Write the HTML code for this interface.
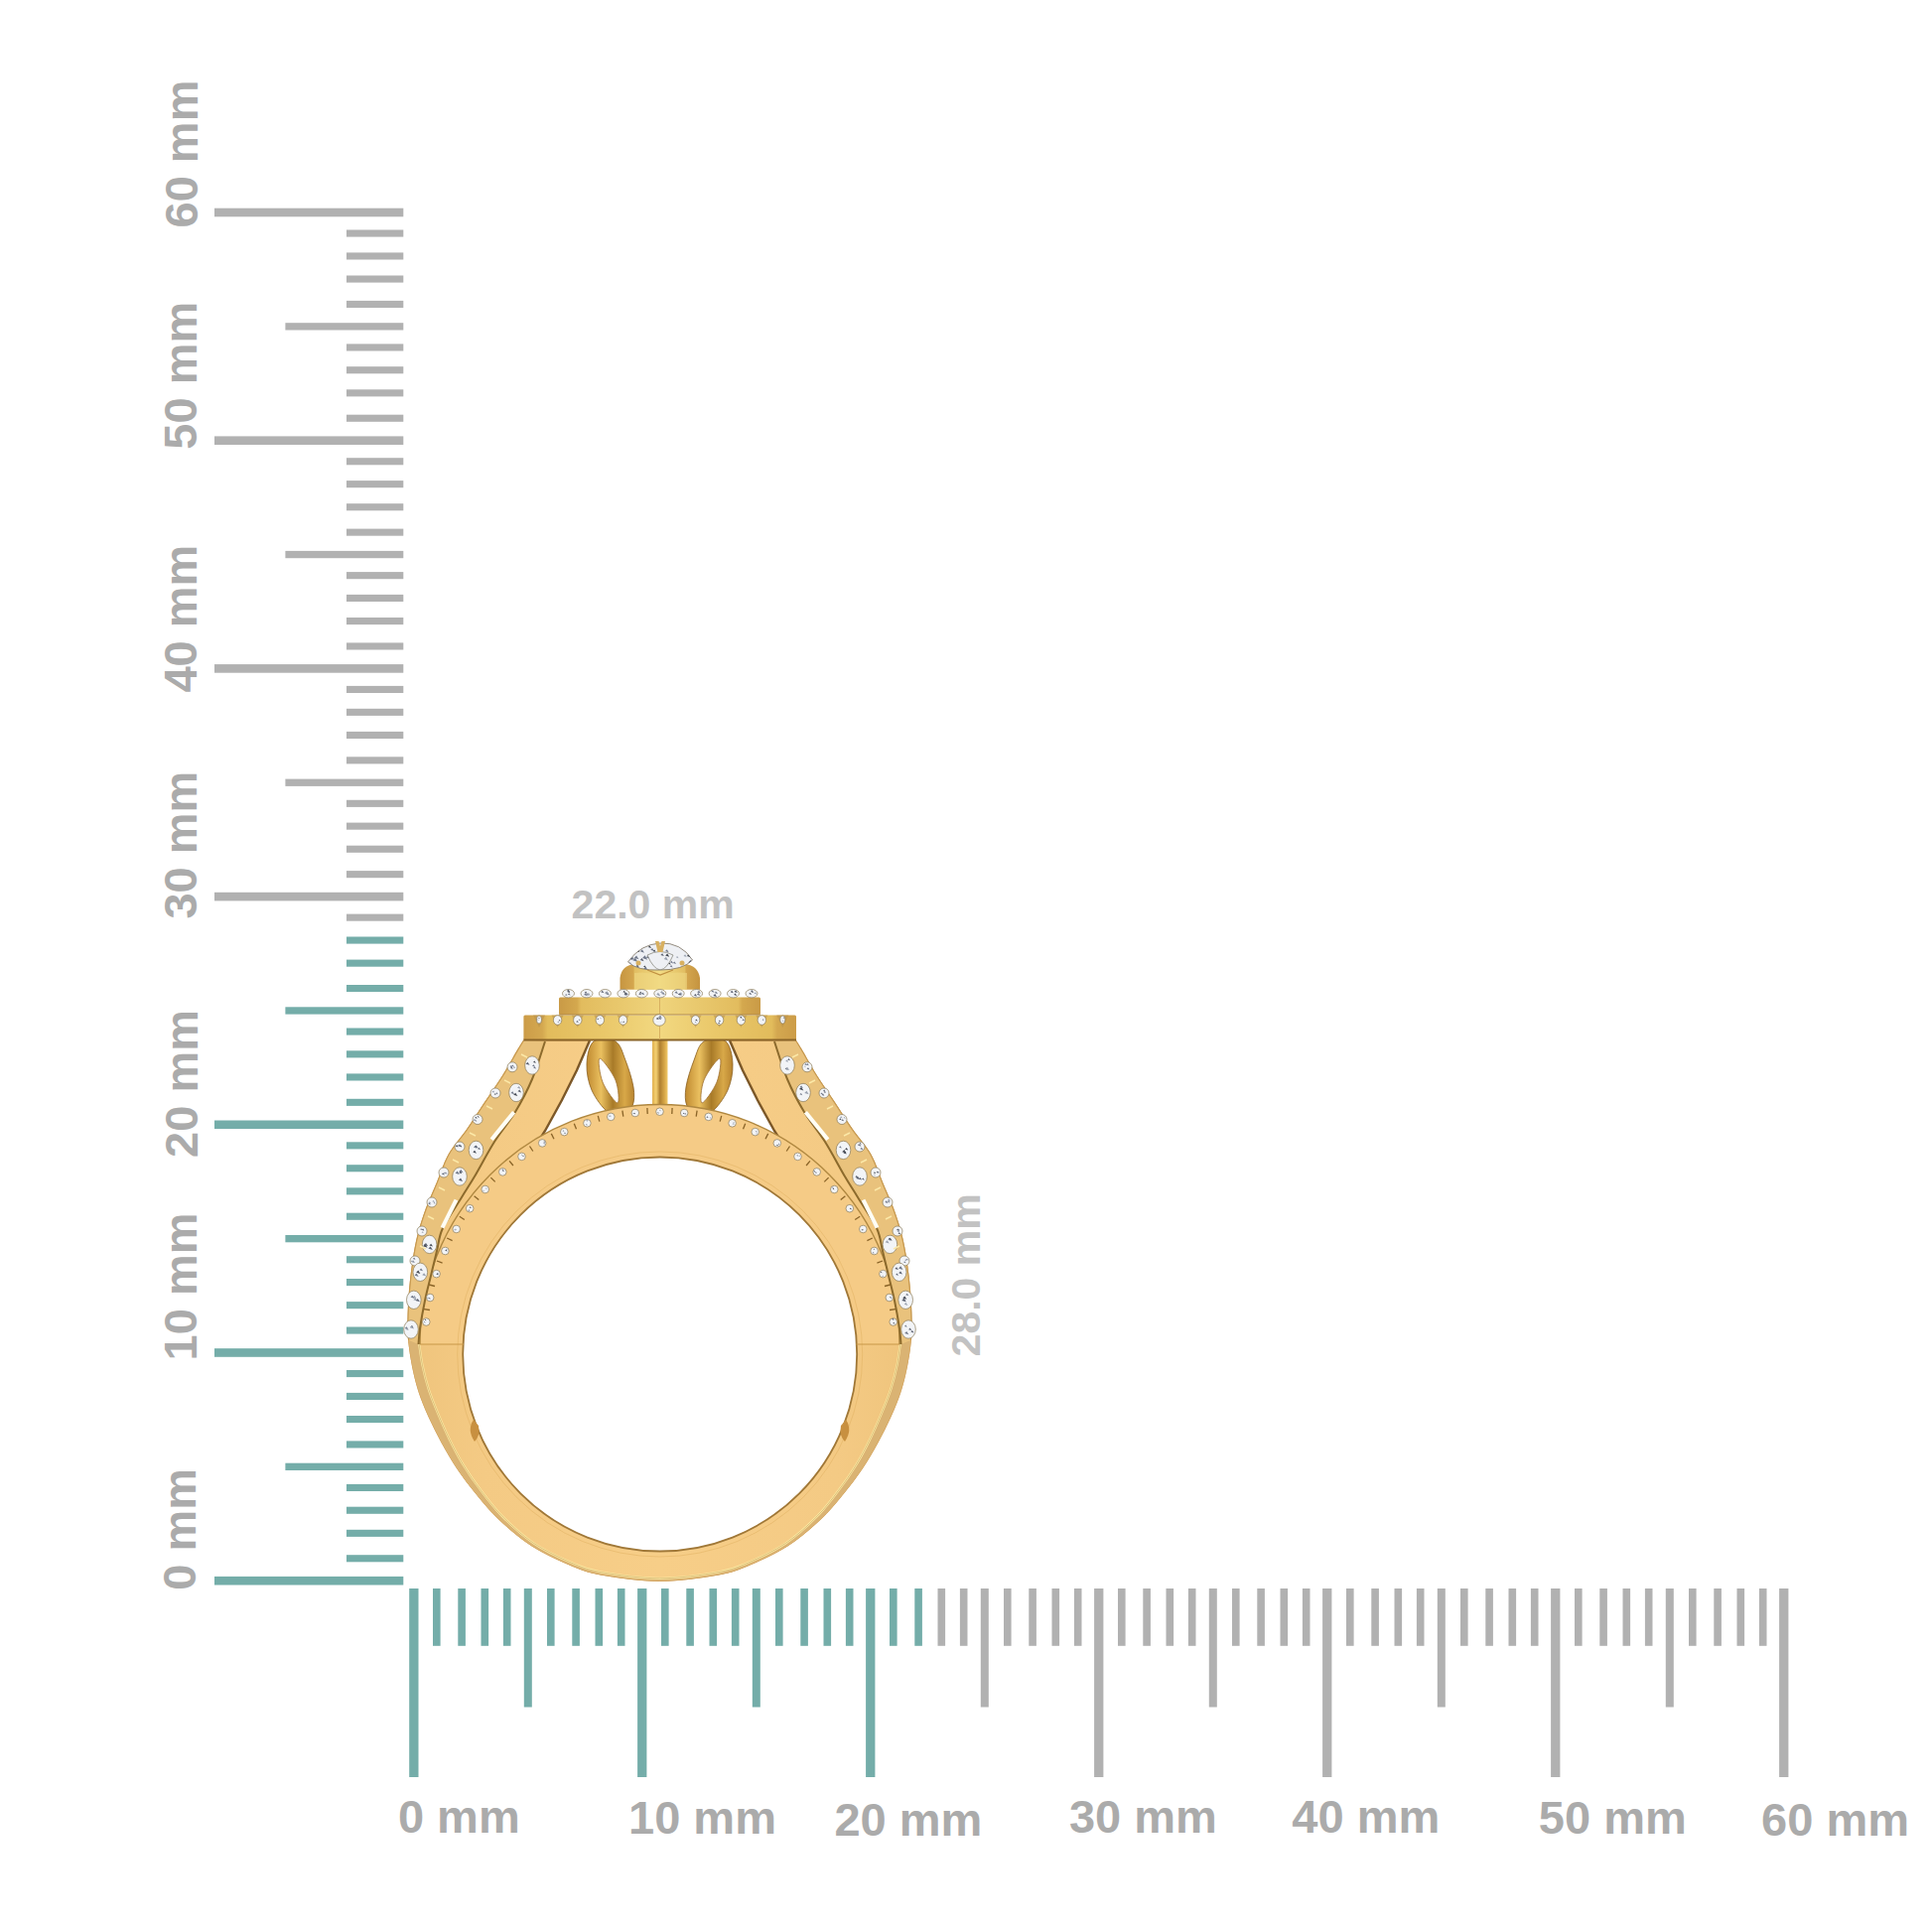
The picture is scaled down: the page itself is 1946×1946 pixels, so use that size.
<!DOCTYPE html>
<html><head><meta charset="utf-8"><style>
html,body{margin:0;padding:0;background:#fff;}
svg{display:block;}
.lb{font-family:"Liberation Sans",sans-serif;font-weight:bold;font-size:47px;fill:#ababab;}
.lb2{font-family:"Liberation Sans",sans-serif;font-weight:bold;font-size:41px;fill:#c2c2c2;}
</style></head><body>
<svg width="1946" height="1946" viewBox="0 0 1946 1946">
<rect width="1946" height="1946" fill="#fff"/>
<rect x="216" y="1587.9" width="190.3" height="8.6" fill="#74ada9"/>
<rect x="349" y="1566.2" width="57.3" height="7.1" fill="#74ada9"/>
<rect x="349" y="1540.8" width="57.3" height="7.1" fill="#74ada9"/>
<rect x="349" y="1517.7" width="57.3" height="7.1" fill="#74ada9"/>
<rect x="349" y="1494.9" width="57.3" height="7.1" fill="#74ada9"/>
<rect x="287.4" y="1473.7" width="118.9" height="7.3" fill="#74ada9"/>
<rect x="349" y="1451.4" width="57.3" height="7.1" fill="#74ada9"/>
<rect x="349" y="1426.0" width="57.3" height="7.1" fill="#74ada9"/>
<rect x="349" y="1402.9" width="57.3" height="7.1" fill="#74ada9"/>
<rect x="349" y="1380.0" width="57.3" height="7.1" fill="#74ada9"/>
<rect x="216" y="1358.2" width="190.3" height="8.6" fill="#74ada9"/>
<rect x="349" y="1336.5" width="57.3" height="7.1" fill="#74ada9"/>
<rect x="349" y="1311.1" width="57.3" height="7.1" fill="#74ada9"/>
<rect x="349" y="1288.0" width="57.3" height="7.1" fill="#74ada9"/>
<rect x="349" y="1265.2" width="57.3" height="7.1" fill="#74ada9"/>
<rect x="287.4" y="1244.0" width="118.9" height="7.3" fill="#74ada9"/>
<rect x="349" y="1221.7" width="57.3" height="7.1" fill="#74ada9"/>
<rect x="349" y="1196.3" width="57.3" height="7.1" fill="#74ada9"/>
<rect x="349" y="1173.2" width="57.3" height="7.1" fill="#74ada9"/>
<rect x="349" y="1150.3" width="57.3" height="7.1" fill="#74ada9"/>
<rect x="216" y="1128.5" width="190.3" height="8.6" fill="#74ada9"/>
<rect x="349" y="1106.8" width="57.3" height="7.1" fill="#74ada9"/>
<rect x="349" y="1081.4" width="57.3" height="7.1" fill="#74ada9"/>
<rect x="349" y="1058.3" width="57.3" height="7.1" fill="#74ada9"/>
<rect x="349" y="1035.5" width="57.3" height="7.1" fill="#74ada9"/>
<rect x="287.4" y="1014.3" width="118.9" height="7.3" fill="#74ada9"/>
<rect x="349" y="992.0" width="57.3" height="7.1" fill="#74ada9"/>
<rect x="349" y="966.6" width="57.3" height="7.1" fill="#74ada9"/>
<rect x="349" y="943.5" width="57.3" height="7.1" fill="#74ada9"/>
<rect x="349" y="920.6" width="57.3" height="7.1" fill="#b1b1b1"/>
<rect x="216" y="898.8" width="190.3" height="8.6" fill="#b1b1b1"/>
<rect x="349" y="877.1" width="57.3" height="7.1" fill="#b1b1b1"/>
<rect x="349" y="851.7" width="57.3" height="7.1" fill="#b1b1b1"/>
<rect x="349" y="828.6" width="57.3" height="7.1" fill="#b1b1b1"/>
<rect x="349" y="805.8" width="57.3" height="7.1" fill="#b1b1b1"/>
<rect x="287.4" y="784.6" width="118.9" height="7.3" fill="#b1b1b1"/>
<rect x="349" y="762.3" width="57.3" height="7.1" fill="#b1b1b1"/>
<rect x="349" y="736.9" width="57.3" height="7.1" fill="#b1b1b1"/>
<rect x="349" y="713.8" width="57.3" height="7.1" fill="#b1b1b1"/>
<rect x="349" y="690.9" width="57.3" height="7.1" fill="#b1b1b1"/>
<rect x="216" y="669.1" width="190.3" height="8.6" fill="#b1b1b1"/>
<rect x="349" y="647.4" width="57.3" height="7.1" fill="#b1b1b1"/>
<rect x="349" y="622.0" width="57.3" height="7.1" fill="#b1b1b1"/>
<rect x="349" y="598.9" width="57.3" height="7.1" fill="#b1b1b1"/>
<rect x="349" y="576.1" width="57.3" height="7.1" fill="#b1b1b1"/>
<rect x="287.4" y="554.9" width="118.9" height="7.3" fill="#b1b1b1"/>
<rect x="349" y="532.6" width="57.3" height="7.1" fill="#b1b1b1"/>
<rect x="349" y="507.2" width="57.3" height="7.1" fill="#b1b1b1"/>
<rect x="349" y="484.1" width="57.3" height="7.1" fill="#b1b1b1"/>
<rect x="349" y="461.2" width="57.3" height="7.1" fill="#b1b1b1"/>
<rect x="216" y="439.4" width="190.3" height="8.6" fill="#b1b1b1"/>
<rect x="349" y="417.7" width="57.3" height="7.1" fill="#b1b1b1"/>
<rect x="349" y="392.3" width="57.3" height="7.1" fill="#b1b1b1"/>
<rect x="349" y="369.2" width="57.3" height="7.1" fill="#b1b1b1"/>
<rect x="349" y="346.4" width="57.3" height="7.1" fill="#b1b1b1"/>
<rect x="287.4" y="325.2" width="118.9" height="7.3" fill="#b1b1b1"/>
<rect x="349" y="302.9" width="57.3" height="7.1" fill="#b1b1b1"/>
<rect x="349" y="277.5" width="57.3" height="7.1" fill="#b1b1b1"/>
<rect x="349" y="254.4" width="57.3" height="7.1" fill="#b1b1b1"/>
<rect x="349" y="231.5" width="57.3" height="7.1" fill="#b1b1b1"/>
<rect x="216" y="209.7" width="190.3" height="8.6" fill="#b1b1b1"/>
<rect x="412.2" y="1600" width="9.3" height="190.0" fill="#74ada9"/>
<rect x="436.0" y="1600" width="7.6" height="57.8" fill="#74ada9"/>
<rect x="461.3" y="1600" width="7.6" height="57.8" fill="#74ada9"/>
<rect x="484.5" y="1600" width="7.6" height="57.8" fill="#74ada9"/>
<rect x="506.9" y="1600" width="7.6" height="57.8" fill="#74ada9"/>
<rect x="527.8" y="1600" width="8" height="119.5" fill="#74ada9"/>
<rect x="551.0" y="1600" width="7.6" height="57.8" fill="#74ada9"/>
<rect x="576.3" y="1600" width="7.6" height="57.8" fill="#74ada9"/>
<rect x="599.5" y="1600" width="7.6" height="57.8" fill="#74ada9"/>
<rect x="621.9" y="1600" width="7.6" height="57.8" fill="#74ada9"/>
<rect x="642.1" y="1600" width="9.3" height="190.0" fill="#74ada9"/>
<rect x="666.0" y="1600" width="7.6" height="57.8" fill="#74ada9"/>
<rect x="691.3" y="1600" width="7.6" height="57.8" fill="#74ada9"/>
<rect x="714.5" y="1600" width="7.6" height="57.8" fill="#74ada9"/>
<rect x="736.9" y="1600" width="7.6" height="57.8" fill="#74ada9"/>
<rect x="757.8" y="1600" width="8" height="119.5" fill="#74ada9"/>
<rect x="781.0" y="1600" width="7.6" height="57.8" fill="#74ada9"/>
<rect x="806.3" y="1600" width="7.6" height="57.8" fill="#74ada9"/>
<rect x="829.5" y="1600" width="7.6" height="57.8" fill="#74ada9"/>
<rect x="851.9" y="1600" width="7.6" height="57.8" fill="#74ada9"/>
<rect x="872.1" y="1600" width="9.3" height="190.0" fill="#74ada9"/>
<rect x="896.0" y="1600" width="7.6" height="57.8" fill="#74ada9"/>
<rect x="921.3" y="1600" width="7.6" height="57.8" fill="#74ada9"/>
<rect x="944.5" y="1600" width="7.6" height="57.8" fill="#b1b1b1"/>
<rect x="966.9" y="1600" width="7.6" height="57.8" fill="#b1b1b1"/>
<rect x="987.8" y="1600" width="8" height="119.5" fill="#b1b1b1"/>
<rect x="1011.0" y="1600" width="7.6" height="57.8" fill="#b1b1b1"/>
<rect x="1036.3" y="1600" width="7.6" height="57.8" fill="#b1b1b1"/>
<rect x="1059.5" y="1600" width="7.6" height="57.8" fill="#b1b1b1"/>
<rect x="1081.9" y="1600" width="7.6" height="57.8" fill="#b1b1b1"/>
<rect x="1102.1" y="1600" width="9.3" height="190.0" fill="#b1b1b1"/>
<rect x="1126.0" y="1600" width="7.6" height="57.8" fill="#b1b1b1"/>
<rect x="1151.3" y="1600" width="7.6" height="57.8" fill="#b1b1b1"/>
<rect x="1174.5" y="1600" width="7.6" height="57.8" fill="#b1b1b1"/>
<rect x="1196.9" y="1600" width="7.6" height="57.8" fill="#b1b1b1"/>
<rect x="1217.8" y="1600" width="8" height="119.5" fill="#b1b1b1"/>
<rect x="1241.0" y="1600" width="7.6" height="57.8" fill="#b1b1b1"/>
<rect x="1266.3" y="1600" width="7.6" height="57.8" fill="#b1b1b1"/>
<rect x="1289.5" y="1600" width="7.6" height="57.8" fill="#b1b1b1"/>
<rect x="1311.9" y="1600" width="7.6" height="57.8" fill="#b1b1b1"/>
<rect x="1332.1" y="1600" width="9.3" height="190.0" fill="#b1b1b1"/>
<rect x="1356.0" y="1600" width="7.6" height="57.8" fill="#b1b1b1"/>
<rect x="1381.3" y="1600" width="7.6" height="57.8" fill="#b1b1b1"/>
<rect x="1404.5" y="1600" width="7.6" height="57.8" fill="#b1b1b1"/>
<rect x="1426.9" y="1600" width="7.6" height="57.8" fill="#b1b1b1"/>
<rect x="1447.8" y="1600" width="8" height="119.5" fill="#b1b1b1"/>
<rect x="1471.0" y="1600" width="7.6" height="57.8" fill="#b1b1b1"/>
<rect x="1496.3" y="1600" width="7.6" height="57.8" fill="#b1b1b1"/>
<rect x="1519.5" y="1600" width="7.6" height="57.8" fill="#b1b1b1"/>
<rect x="1541.9" y="1600" width="7.6" height="57.8" fill="#b1b1b1"/>
<rect x="1562.1" y="1600" width="9.3" height="190.0" fill="#b1b1b1"/>
<rect x="1586.0" y="1600" width="7.6" height="57.8" fill="#b1b1b1"/>
<rect x="1611.3" y="1600" width="7.6" height="57.8" fill="#b1b1b1"/>
<rect x="1634.5" y="1600" width="7.6" height="57.8" fill="#b1b1b1"/>
<rect x="1656.9" y="1600" width="7.6" height="57.8" fill="#b1b1b1"/>
<rect x="1677.8" y="1600" width="8" height="119.5" fill="#b1b1b1"/>
<rect x="1701.0" y="1600" width="7.6" height="57.8" fill="#b1b1b1"/>
<rect x="1726.3" y="1600" width="7.6" height="57.8" fill="#b1b1b1"/>
<rect x="1749.5" y="1600" width="7.6" height="57.8" fill="#b1b1b1"/>
<rect x="1771.9" y="1600" width="7.6" height="57.8" fill="#b1b1b1"/>
<rect x="1792.1" y="1600" width="9.3" height="190.0" fill="#b1b1b1"/>
<text x="400.9" y="1845.9" class="lb">0 mm</text>
<text x="633.0" y="1847.0" class="lb">10 mm</text>
<text x="840.4" y="1849.0" class="lb">20 mm</text>
<text x="1076.9" y="1845.9" class="lb">30 mm</text>
<text x="1301.3" y="1845.9" class="lb">40 mm</text>
<text x="1549.8" y="1847.0" class="lb">50 mm</text>
<text x="1774.1" y="1849.0" class="lb">60 mm</text>
<text transform="translate(196.8,1601.7) rotate(-90)" class="lb">0 mm</text>
<text transform="translate(197.6,1370.4) rotate(-90)" class="lb">10 mm</text>
<text transform="translate(199.0,1165.9) rotate(-90)" class="lb">20 mm</text>
<text transform="translate(197.5,925.6) rotate(-90)" class="lb">30 mm</text>
<text transform="translate(197.5,697.6) rotate(-90)" class="lb">40 mm</text>
<text transform="translate(198.0,452.7) rotate(-90)" class="lb">50 mm</text>
<text transform="translate(199.0,229.5) rotate(-90)" class="lb">60 mm</text>
<text x="575.6" y="925" class="lb2">22.0 mm</text>
<text transform="translate(987.2,1366.4) rotate(-90)" class="lb2">28.0 mm</text>
<defs>
<linearGradient id="gBand" x1="410" y1="0" x2="919" y2="0" gradientUnits="userSpaceOnUse">
 <stop offset="0" stop-color="#efc47c"/><stop offset="0.15" stop-color="#f4ca84"/>
 <stop offset="0.5" stop-color="#f7ce88"/><stop offset="0.85" stop-color="#f4ca84"/><stop offset="1" stop-color="#efc47c"/>
</linearGradient>
<linearGradient id="gHead" x1="527" y1="0" x2="802" y2="0" gradientUnits="userSpaceOnUse">
 <stop offset="0" stop-color="#cc9c48"/><stop offset="0.07" stop-color="#d4a850"/><stop offset="0.09" stop-color="#e2bc5c"/>
 <stop offset="0.3" stop-color="#eac86a"/><stop offset="0.5" stop-color="#f2d880"/><stop offset="0.7" stop-color="#eac86a"/><stop offset="0.91" stop-color="#e2bc5c"/><stop offset="0.93" stop-color="#d4a850"/><stop offset="1" stop-color="#cc9c48"/>
</linearGradient>
<linearGradient id="gHead2" x1="563" y1="0" x2="766" y2="0" gradientUnits="userSpaceOnUse">
 <stop offset="0" stop-color="#c99a46"/><stop offset="0.09" stop-color="#d4a84e"/><stop offset="0.11" stop-color="#e2bc5e"/>
 <stop offset="0.5" stop-color="#efd47c"/><stop offset="0.89" stop-color="#e2bc5e"/><stop offset="0.91" stop-color="#d4a84e"/><stop offset="1" stop-color="#c99a46"/>
</linearGradient>
<linearGradient id="gTop" x1="624" y1="0" x2="705" y2="0" gradientUnits="userSpaceOnUse">
 <stop offset="0" stop-color="#c59440"/><stop offset="0.17" stop-color="#d4a64e"/><stop offset="0.19" stop-color="#e2be62"/>
 <stop offset="0.5" stop-color="#f2dc84"/><stop offset="0.81" stop-color="#e2be62"/><stop offset="0.83" stop-color="#d4a64e"/><stop offset="1" stop-color="#c59440"/>
</linearGradient>
<linearGradient id="gGal" x1="0" y1="0" x2="1" y2="0">
 <stop offset="0" stop-color="#c08a30"/><stop offset="0.3" stop-color="#eac060"/><stop offset="0.55" stop-color="#a87a28"/><stop offset="0.8" stop-color="#d8a848"/><stop offset="1" stop-color="#b88430"/>
</linearGradient>
<linearGradient id="gPost" x1="0" y1="0" x2="1" y2="0">
 <stop offset="0" stop-color="#e0b050"/><stop offset="0.25" stop-color="#f4d070"/><stop offset="0.5" stop-color="#b08030"/><stop offset="0.8" stop-color="#d8a848"/><stop offset="1" stop-color="#f0c868"/>
</linearGradient>
<radialGradient id="gDia" cx="0.45" cy="0.45" r="0.6">
 <stop offset="0" stop-color="#f4f6fa"/><stop offset="0.5" stop-color="#e2e6ec"/><stop offset="0.8" stop-color="#a0a6b0"/><stop offset="1" stop-color="#60646c"/>
</radialGradient>
<radialGradient id="gDiaS" cx="0.5" cy="0.45" r="0.6">
 <stop offset="0" stop-color="#fbfcfd"/><stop offset="0.6" stop-color="#e6e9ee"/><stop offset="1" stop-color="#80848c"/>
</radialGradient>
</defs>
<path d="M527.5,1048.0 C526.5,1049.6 525.2,1051.6 521.7,1057.4 C518.2,1063.2 512.3,1074.2 506.8,1083.0 C501.3,1091.8 494.6,1101.3 488.5,1110.4 C482.4,1119.5 476.6,1128.9 470.5,1137.7 C464.4,1146.5 457.1,1154.0 452.0,1163.0 C446.9,1172.0 443.8,1183.0 440.0,1192.0 C436.2,1201.0 432.7,1208.3 429.5,1217.0 C426.3,1225.7 423.2,1235.2 421.0,1244.0 C418.8,1252.8 417.4,1260.7 416.0,1270.0 C414.6,1279.3 413.3,1290.0 412.5,1300.0 C411.7,1310.0 411.1,1321.7 411.0,1330.0 C410.9,1338.3 410.9,1342.3 411.6,1350.0 C412.4,1357.7 413.8,1367.4 415.5,1376.0 C417.2,1384.6 419.2,1393.1 422.0,1401.7 C424.8,1410.3 428.4,1419.0 432.3,1427.6 C436.2,1436.2 440.6,1444.9 445.3,1453.5 C450.1,1462.1 455.0,1470.8 460.8,1479.4 C466.6,1488.0 473.1,1496.6 480.2,1505.2 C487.3,1513.8 494.2,1522.5 503.5,1531.1 C512.8,1539.7 523.9,1549.5 535.8,1557.0 C547.6,1564.5 563.1,1571.6 574.6,1576.4 C586.1,1581.2 590.0,1583.3 605.0,1586.0 C620.0,1588.7 644.7,1592.3 664.5,1592.3 C684.3,1592.3 709.0,1588.7 724.0,1586.0 C739.0,1583.3 742.9,1581.2 754.4,1576.4 C765.9,1571.6 781.4,1564.5 793.2,1557.0 C805.1,1549.5 816.2,1539.7 825.5,1531.1 C834.8,1522.5 841.7,1513.8 848.8,1505.2 C855.9,1496.6 862.4,1488.0 868.2,1479.4 C874.0,1470.8 879.0,1462.1 883.7,1453.5 C888.5,1444.9 892.8,1436.2 896.7,1427.6 C900.6,1419.0 904.2,1410.3 907.0,1401.7 C909.8,1393.1 911.8,1384.6 913.5,1376.0 C915.2,1367.4 916.6,1357.7 917.4,1350.0 C918.1,1342.3 918.1,1338.3 918.0,1330.0 C917.9,1321.7 917.3,1310.0 916.5,1300.0 C915.7,1290.0 914.4,1279.3 913.0,1270.0 C911.6,1260.7 910.2,1252.8 908.0,1244.0 C905.8,1235.2 902.7,1225.7 899.5,1217.0 C896.3,1208.3 892.8,1201.0 889.0,1192.0 C885.2,1183.0 882.1,1172.0 877.0,1163.0 C871.9,1154.0 864.6,1146.5 858.5,1137.7 C852.4,1128.9 846.5,1119.5 840.5,1110.4 C834.5,1101.3 827.7,1091.8 822.2,1083.0 C816.7,1074.2 810.8,1063.2 807.3,1057.4 C803.8,1051.6 802.5,1049.6 801.5,1048.0 Z" fill="url(#gBand)" stroke="#c89a58" stroke-width="1"/>
<path d="M411.0,1330.0 C411.1,1333.3 410.9,1342.3 411.6,1350.0 C412.4,1357.7 413.8,1367.4 415.5,1376.0 C417.2,1384.6 419.2,1393.1 422.0,1401.7 C424.8,1410.3 428.4,1419.0 432.3,1427.6 C436.2,1436.2 440.6,1444.9 445.3,1453.5 C450.1,1462.1 455.0,1470.8 460.8,1479.4 C466.6,1488.0 473.1,1496.6 480.2,1505.2 C487.3,1513.8 494.2,1522.5 503.5,1531.1 C512.8,1539.7 523.9,1549.5 535.8,1557.0 C547.6,1564.5 563.1,1571.6 574.6,1576.4 C586.1,1581.2 590.0,1583.3 605.0,1586.0 C620.0,1588.7 644.7,1592.3 664.5,1592.3 C684.3,1592.3 709.0,1588.7 724.0,1586.0 C739.0,1583.3 742.9,1581.2 754.4,1576.4 C765.9,1571.6 781.4,1564.5 793.2,1557.0 C805.1,1549.5 816.2,1539.7 825.5,1531.1 C834.8,1522.5 841.7,1513.8 848.8,1505.2 C855.9,1496.6 862.4,1488.0 868.2,1479.4 C874.0,1470.8 879.0,1462.1 883.7,1453.5 C888.5,1444.9 892.8,1436.2 896.7,1427.6 C900.6,1419.0 904.2,1410.3 907.0,1401.7 C909.8,1393.1 911.8,1384.6 913.5,1376.0 C915.2,1367.4 916.6,1357.7 917.4,1350.0 C918.1,1342.3 917.9,1333.3 918.0,1330.0" fill="none" stroke="#d8a860" stroke-width="1.2" opacity="0.8"/>
<path d="M411.6,1350.0 C412.2,1354.3 413.8,1367.4 415.5,1376.0 C417.2,1384.6 419.2,1393.1 422.0,1401.7 C424.8,1410.3 428.4,1419.0 432.3,1427.6 C436.2,1436.2 440.6,1444.9 445.3,1453.5 C450.1,1462.1 455.0,1470.8 460.8,1479.4 C466.6,1488.0 473.1,1496.6 480.2,1505.2 C487.3,1513.8 494.2,1522.5 503.5,1531.1 C512.8,1539.7 523.9,1549.5 535.8,1557.0 C547.6,1564.5 563.1,1571.6 574.6,1576.4 C586.1,1581.2 590.0,1583.3 605.0,1586.0 C620.0,1588.7 644.7,1592.3 664.5,1592.3 C684.3,1592.3 709.0,1588.7 724.0,1586.0 C739.0,1583.3 742.9,1581.2 754.4,1576.4 C765.9,1571.6 781.4,1564.5 793.2,1557.0 C805.1,1549.5 816.2,1539.7 825.5,1531.1 C834.8,1522.5 841.7,1513.8 848.8,1505.2 C855.9,1496.6 862.4,1488.0 868.2,1479.4 C874.0,1470.8 879.0,1462.1 883.7,1453.5 C888.5,1444.9 892.8,1436.2 896.7,1427.6 C900.6,1419.0 904.2,1410.3 907.0,1401.7 C909.8,1393.1 911.8,1384.6 913.5,1376.0 C915.2,1367.4 916.8,1354.3 917.4,1350.0 L907.4,1349.2 C906.8,1353.4 905.3,1365.9 903.7,1374.2 C902.0,1382.5 900.0,1390.6 897.4,1398.9 C894.8,1407.1 891.3,1415.4 887.8,1423.9 C884.3,1432.3 880.7,1440.9 876.4,1449.4 C872.2,1458.0 867.8,1466.6 862.5,1475.2 C857.2,1483.9 851.3,1492.5 844.6,1501.2 C838.0,1510.0 831.6,1518.8 822.7,1527.6 C813.9,1536.5 803.2,1546.5 791.6,1554.3 C780.1,1562.0 764.9,1569.2 753.5,1574.1 C742.2,1578.9 738.3,1580.9 723.4,1583.6 C708.6,1586.2 684.1,1589.8 664.5,1589.8 C644.9,1589.8 620.4,1586.2 605.6,1583.6 C590.7,1580.9 586.8,1578.9 575.5,1574.1 C564.1,1569.2 548.9,1562.0 537.4,1554.3 C525.8,1546.5 515.1,1536.5 506.3,1527.6 C497.4,1518.8 491.0,1510.0 484.4,1501.2 C477.7,1492.5 471.8,1483.9 466.5,1475.2 C461.2,1466.6 456.8,1458.0 452.6,1449.4 C448.3,1440.9 444.7,1432.3 441.2,1423.9 C437.7,1415.4 434.2,1407.1 431.6,1398.9 C429.0,1390.6 427.0,1382.5 425.3,1374.2 C423.7,1365.9 422.2,1353.4 421.6,1349.2 Z" fill="#dab373"/>
<path d="M421.6,1349.2 C422.2,1353.4 423.7,1365.9 425.3,1374.2 C427.0,1382.5 429.0,1390.6 431.6,1398.9 C434.2,1407.1 437.7,1415.4 441.2,1423.9 C444.7,1432.3 448.3,1440.9 452.6,1449.4 C456.8,1458.0 461.2,1466.6 466.5,1475.2 C471.8,1483.9 477.7,1492.5 484.4,1501.2 C491.0,1510.0 497.4,1518.8 506.3,1527.6 C515.1,1536.5 525.8,1546.5 537.4,1554.3 C548.9,1562.0 564.1,1569.2 575.5,1574.1 C586.8,1578.9 590.7,1580.9 605.6,1583.6 C620.4,1586.2 644.9,1589.8 664.5,1589.8 C684.1,1589.8 708.6,1586.2 723.4,1583.6 C738.3,1580.9 742.2,1578.9 753.5,1574.1 C764.9,1569.2 780.1,1562.0 791.6,1554.3 C803.2,1546.5 813.9,1536.5 822.7,1527.6 C831.6,1518.8 838.0,1510.0 844.6,1501.2 C851.3,1492.5 857.2,1483.9 862.5,1475.2 C867.8,1466.6 872.2,1458.0 876.4,1449.4 C880.7,1440.9 884.3,1432.3 887.8,1423.9 C891.3,1415.4 894.8,1407.1 897.4,1398.9 C900.0,1390.6 902.0,1382.5 903.7,1374.2 C905.3,1365.9 906.8,1353.4 907.4,1349.2" fill="none" stroke="#fce9a2" stroke-width="2.2"/>
<path d="M421.6,1349.2 C422.2,1353.4 423.7,1365.9 425.3,1374.2 C427.0,1382.5 429.0,1390.6 431.6,1398.9 C434.2,1407.1 437.7,1415.4 441.2,1423.9 C444.7,1432.3 448.3,1440.9 452.6,1449.4 C456.8,1458.0 461.2,1466.6 466.5,1475.2 C471.8,1483.9 477.7,1492.5 484.4,1501.2 C491.0,1510.0 497.4,1518.8 506.3,1527.6 C515.1,1536.5 525.8,1546.5 537.4,1554.3 C548.9,1562.0 564.1,1569.2 575.5,1574.1 C586.8,1578.9 590.7,1580.9 605.6,1583.6 C620.4,1586.2 644.9,1589.8 664.5,1589.8 C684.1,1589.8 708.6,1586.2 723.4,1583.6 C738.3,1580.9 742.2,1578.9 753.5,1574.1 C764.9,1569.2 780.1,1562.0 791.6,1554.3 C803.2,1546.5 813.9,1536.5 822.7,1527.6 C831.6,1518.8 838.0,1510.0 844.6,1501.2 C851.3,1492.5 857.2,1483.9 862.5,1475.2 C867.8,1466.6 872.2,1458.0 876.4,1449.4 C880.7,1440.9 884.3,1432.3 887.8,1423.9 C891.3,1415.4 894.8,1407.1 897.4,1398.9 C900.0,1390.6 902.0,1382.5 903.7,1374.2 C905.3,1365.9 906.8,1353.4 907.4,1349.2" fill="none" stroke="#b89050" stroke-width="0.8" opacity="0.6" transform="translate(0,0)"/>
<path d="M594.0,1048.0 L581.0,1078.0 L566.0,1108.0 L549.0,1139.0 L544.0,1147.0 L550.0,1143.6 L556.0,1140.4 L562.0,1137.5 L568.0,1134.8 L574.0,1132.3 L580.0,1130.0 L586.0,1127.8 L592.0,1125.8 L598.0,1124.0 L604.0,1122.4 L610.0,1120.9 L616.0,1119.6 L622.0,1118.5 L628.0,1117.5 L634.0,1116.6 L640.0,1115.9 L646.0,1115.4 L652.0,1115.0 L658.0,1114.8 L664.0,1114.7 L670.0,1114.8 L676.0,1115.0 L682.0,1115.3 L688.0,1115.8 L694.0,1116.5 L700.0,1117.3 L706.0,1118.3 L712.0,1119.4 L718.0,1120.7 L724.0,1122.1 L730.0,1123.8 L736.0,1125.5 L742.0,1127.5 L748.0,1129.6 L754.0,1131.9 L760.0,1134.4 L766.0,1137.1 L772.0,1139.9 L778.0,1143.0 L785.0,1147.0 L780.0,1139.0 L763.0,1108.0 L748.0,1078.0 L735.0,1048.0 Z" fill="#ffffff"/>
<path d="M594.0,1048.0 L581.0,1078.0 L566.0,1108.0 L549.0,1139.0 L544.0,1147.0" fill="none" stroke="#7c5828" stroke-width="2.4"/>
<path d="M735.0,1048.0 L748.0,1078.0 L763.0,1108.0 L780.0,1139.0 L785.0,1147.0" fill="none" stroke="#7c5828" stroke-width="2.4"/>
<path d="M598.0,1049.0 C593.2,1052.8 591.3,1063.8 591.0,1072.0 C590.7,1080.2 592.5,1090.0 596.0,1098.0 C599.5,1106.0 607.0,1116.0 612.0,1120.0 C617.0,1124.0 621.8,1123.0 626.0,1122.0 C630.2,1121.0 635.0,1118.5 637.0,1114.0 C639.0,1109.5 639.2,1102.7 638.0,1095.0 C636.8,1087.3 633.0,1075.7 630.0,1068.0 C627.0,1060.3 625.3,1052.2 620.0,1049.0 C614.7,1045.8 602.8,1045.2 598.0,1049.0 Z" fill="url(#gGal)" stroke="#8a6020" stroke-width="0.8"/>
<path d="M604.0,1066.0 C601.8,1066.3 604.0,1082.5 607.0,1090.0 C610.0,1097.5 619.8,1111.3 622.0,1111.0 C624.2,1110.7 623.0,1095.5 620.0,1088.0 C617.0,1080.5 606.2,1065.7 604.0,1066.0 Z" fill="#ffffff" stroke="#a07030" stroke-width="0.8"/>
<path d="M731.0,1049.0 C735.8,1052.8 737.7,1063.8 738.0,1072.0 C738.3,1080.2 736.5,1090.0 733.0,1098.0 C729.5,1106.0 722.0,1116.0 717.0,1120.0 C712.0,1124.0 707.2,1123.0 703.0,1122.0 C698.8,1121.0 694.0,1118.5 692.0,1114.0 C690.0,1109.5 689.8,1102.7 691.0,1095.0 C692.2,1087.3 696.0,1075.7 699.0,1068.0 C702.0,1060.3 703.7,1052.2 709.0,1049.0 C714.3,1045.8 726.2,1045.2 731.0,1049.0 Z" fill="url(#gGal)" stroke="#8a6020" stroke-width="0.8"/>
<path d="M725.0,1066.0 C727.2,1066.3 725.0,1082.5 722.0,1090.0 C719.0,1097.5 709.2,1111.3 707.0,1111.0 C704.8,1110.7 706.0,1095.5 709.0,1088.0 C712.0,1080.5 722.8,1065.7 725.0,1066.0 Z" fill="#ffffff" stroke="#a07030" stroke-width="0.8"/>
<rect x="657" y="1048" width="15.5" height="70" fill="url(#gPost)"/>
<path d="M423.0,1354 A241.5,241.5 0 0 1 906.0,1354 L862.4,1354 A198,198 0 0 0 467.0,1354 Z" fill="#f5cb86"/>
<circle cx="664.7" cy="1364" r="198" fill="#ffffff"/>
<circle cx="664.7" cy="1364" r="198.5" fill="none" stroke="#a07838" stroke-width="1.8"/>
<circle cx="664.7" cy="1364" r="204" fill="none" stroke="#e0b060" stroke-width="1" opacity="0.5"/>
<line x1="423.0" y1="1354" x2="467.0" y2="1354" stroke="#c89848" stroke-width="1"/>
<line x1="862.4" y1="1354" x2="906.0" y2="1354" stroke="#c89848" stroke-width="1"/>
<path d="M423.0,1354 A241.5,241.5 0 0 1 906.0,1354" fill="none" stroke="#b08840" stroke-width="1.4"/>
<path d="M477,1430 Q470,1440 478,1452 Q484,1446 482,1436 Z" fill="#c89040"/>
<path d="M852,1430 Q859,1440 851,1452 Q845,1446 847,1436 Z" fill="#c89040"/>
<path d="M527.5,1048.0 C526.5,1049.6 525.2,1051.6 521.7,1057.4 C518.2,1063.2 512.3,1074.2 506.8,1083.0 C501.3,1091.8 494.6,1101.3 488.5,1110.4 C482.4,1119.5 476.6,1128.9 470.5,1137.7 C464.4,1146.5 457.1,1154.0 452.0,1163.0 C446.9,1172.0 443.8,1183.0 440.0,1192.0 C436.2,1201.0 432.7,1208.3 429.5,1217.0 C426.3,1225.7 423.2,1235.2 421.0,1244.0 C418.8,1252.8 417.4,1260.7 416.0,1270.0 C414.6,1279.3 413.3,1290.0 412.5,1300.0 C411.7,1310.0 411.1,1321.7 411.0,1330.0 C410.9,1338.3 411.5,1346.7 411.6,1350.0 L421.5,1354.0 C421.8,1351.3 421.9,1345.3 423.0,1338.0 C424.1,1330.7 426.2,1318.8 428.0,1310.0 C429.8,1301.2 432.0,1293.3 434.0,1285.0 C436.0,1276.7 438.0,1268.0 440.0,1260.0 C442.0,1252.0 441.8,1246.0 446.0,1237.0 C450.2,1228.0 459.7,1214.7 465.0,1206.0 C470.3,1197.3 472.5,1194.3 478.0,1185.0 C483.5,1175.7 491.2,1160.8 498.0,1150.0 C504.8,1139.2 512.7,1130.5 519.0,1120.0 C525.3,1109.5 531.0,1098.8 536.0,1087.0 C541.0,1075.2 546.8,1055.3 549.0,1049.0 Z" fill="#e9c27c"/>
<path d="M549.0,1049.0 C546.8,1055.3 541.0,1075.2 536.0,1087.0 C531.0,1098.8 525.3,1109.5 519.0,1120.0 C512.7,1130.5 504.8,1139.2 498.0,1150.0 C491.2,1160.8 483.5,1175.7 478.0,1185.0 C472.5,1194.3 470.3,1197.3 465.0,1206.0 C459.7,1214.7 450.2,1228.0 446.0,1237.0 C441.8,1246.0 442.0,1252.0 440.0,1260.0 C438.0,1268.0 436.0,1276.7 434.0,1285.0 C432.0,1293.3 429.8,1301.2 428.0,1310.0 C426.2,1318.8 424.1,1330.7 423.0,1338.0 C421.9,1345.3 421.8,1351.3 421.5,1354.0" fill="none" stroke="#8c6a2c" stroke-width="2"/>
<path d="M527.5,1048.0 C526.5,1049.6 525.2,1051.6 521.7,1057.4 C518.2,1063.2 512.3,1074.2 506.8,1083.0 C501.3,1091.8 494.6,1101.3 488.5,1110.4 C482.4,1119.5 476.6,1128.9 470.5,1137.7 C464.4,1146.5 457.1,1154.0 452.0,1163.0 C446.9,1172.0 443.8,1183.0 440.0,1192.0 C436.2,1201.0 432.7,1208.3 429.5,1217.0 C426.3,1225.7 423.2,1235.2 421.0,1244.0 C418.8,1252.8 417.4,1260.7 416.0,1270.0 C414.6,1279.3 413.3,1290.0 412.5,1300.0 C411.7,1310.0 411.1,1321.7 411.0,1330.0 C410.9,1338.3 411.5,1346.7 411.6,1350.0" fill="none" stroke="#c89a50" stroke-width="1.2"/>
<path d="M801.5,1048.0 C802.5,1049.6 803.8,1051.6 807.3,1057.4 C810.8,1063.2 816.7,1074.2 822.2,1083.0 C827.7,1091.8 834.5,1101.3 840.5,1110.4 C846.5,1119.5 852.4,1128.9 858.5,1137.7 C864.6,1146.5 871.9,1154.0 877.0,1163.0 C882.1,1172.0 885.2,1183.0 889.0,1192.0 C892.8,1201.0 896.3,1208.3 899.5,1217.0 C902.7,1225.7 905.8,1235.2 908.0,1244.0 C910.2,1252.8 911.6,1260.7 913.0,1270.0 C914.4,1279.3 915.7,1290.0 916.5,1300.0 C917.3,1310.0 917.9,1321.7 918.0,1330.0 C918.1,1338.3 917.5,1346.7 917.4,1350.0 L907.5,1354.0 C907.2,1351.3 907.1,1345.3 906.0,1338.0 C904.9,1330.7 902.8,1318.8 901.0,1310.0 C899.2,1301.2 897.0,1293.3 895.0,1285.0 C893.0,1276.7 891.0,1268.0 889.0,1260.0 C887.0,1252.0 887.2,1246.0 883.0,1237.0 C878.8,1228.0 869.3,1214.7 864.0,1206.0 C858.7,1197.3 856.5,1194.3 851.0,1185.0 C845.5,1175.7 837.8,1160.8 831.0,1150.0 C824.2,1139.2 816.3,1130.5 810.0,1120.0 C803.7,1109.5 798.0,1098.8 793.0,1087.0 C788.0,1075.2 782.2,1055.3 780.0,1049.0 Z" fill="#e9c27c"/>
<path d="M780.0,1049.0 C782.2,1055.3 788.0,1075.2 793.0,1087.0 C798.0,1098.8 803.7,1109.5 810.0,1120.0 C816.3,1130.5 824.2,1139.2 831.0,1150.0 C837.8,1160.8 845.5,1175.7 851.0,1185.0 C856.5,1194.3 858.7,1197.3 864.0,1206.0 C869.3,1214.7 878.8,1228.0 883.0,1237.0 C887.2,1246.0 887.0,1252.0 889.0,1260.0 C891.0,1268.0 893.0,1276.7 895.0,1285.0 C897.0,1293.3 899.2,1301.2 901.0,1310.0 C902.8,1318.8 904.9,1330.7 906.0,1338.0 C907.1,1345.3 907.2,1351.3 907.5,1354.0" fill="none" stroke="#8c6a2c" stroke-width="2"/>
<path d="M801.5,1048.0 C802.5,1049.6 803.8,1051.6 807.3,1057.4 C810.8,1063.2 816.7,1074.2 822.2,1083.0 C827.7,1091.8 834.5,1101.3 840.5,1110.4 C846.5,1119.5 852.4,1128.9 858.5,1137.7 C864.6,1146.5 871.9,1154.0 877.0,1163.0 C882.1,1172.0 885.2,1183.0 889.0,1192.0 C892.8,1201.0 896.3,1208.3 899.5,1217.0 C902.7,1225.7 905.8,1235.2 908.0,1244.0 C910.2,1252.8 911.6,1260.7 913.0,1270.0 C914.4,1279.3 915.7,1290.0 916.5,1300.0 C917.3,1310.0 917.9,1321.7 918.0,1330.0 C918.1,1338.3 917.5,1346.7 917.4,1350.0" fill="none" stroke="#c89a50" stroke-width="1.2"/>
<line x1="517.6" y1="1120.2" x2="495.2" y2="1147.7" stroke="#fffef5" stroke-width="4"/>
<line x1="459.5" y1="1208.7" x2="445.5" y2="1236.6" stroke="#fffef5" stroke-width="4"/>
<ellipse cx="516.0" cy="1074.8" rx="5" ry="5" fill="#f2f4f7" stroke="#8a7a58" stroke-width="0.7"/><path d="M514.0,1076.0 L515.4,1074.6 L516.8,1076.8 Z" fill="#5a6070"/><path d="M515.2,1073.7 L516.5,1072.4 L517.8,1074.5 Z" fill="#70788a"/><path d="M517.0,1075.3 L517.9,1074.3 L518.9,1075.8 Z" fill="#5a6070"/><path d="M513.6,1074.4 L514.9,1073.1 L516.2,1075.2 Z" fill="#70788a"/>
<ellipse cx="499.0" cy="1101.0" rx="5" ry="5" fill="#f2f4f7" stroke="#8a7a58" stroke-width="0.7"/><path d="M496.5,1099.3 L497.4,1098.4 L498.4,1099.9 Z" fill="#9aa2b0"/><path d="M499.1,1101.5 L500.4,1100.2 L501.7,1102.2 Z" fill="#70788a"/><path d="M497.7,1102.3 L498.7,1101.3 L499.7,1102.9 Z" fill="#454a55"/><path d="M495.7,1100.1 L496.6,1099.1 L497.6,1100.6 Z" fill="#70788a"/>
<ellipse cx="481.0" cy="1127.5" rx="5" ry="5" fill="#f2f4f7" stroke="#8a7a58" stroke-width="0.7"/><path d="M478.5,1129.1 L479.4,1128.2 L480.4,1129.7 Z" fill="#5a6070"/><path d="M478.2,1126.1 L479.4,1124.8 L480.7,1126.8 Z" fill="#454a55"/><path d="M476.8,1128.2 L478.0,1127.0 L479.1,1128.9 Z" fill="#70788a"/><path d="M480.6,1125.0 L481.7,1124.0 L482.8,1125.7 Z" fill="#454a55"/>
<ellipse cx="463.0" cy="1155.0" rx="5" ry="5" fill="#f2f4f7" stroke="#8a7a58" stroke-width="0.7"/><path d="M458.7,1154.5 L460.1,1153.1 L461.5,1155.4 Z" fill="#454a55"/><path d="M460.8,1154.3 L462.1,1153.0 L463.4,1155.0 Z" fill="#70788a"/><path d="M461.8,1153.7 L463.1,1152.4 L464.3,1154.4 Z" fill="#5a6070"/><path d="M462.9,1154.7 L464.1,1153.4 L465.4,1155.5 Z" fill="#454a55"/>
<ellipse cx="447.0" cy="1181.0" rx="5" ry="5" fill="#f2f4f7" stroke="#8a7a58" stroke-width="0.7"/><path d="M444.8,1182.5 L446.0,1181.3 L447.3,1183.3 Z" fill="#9aa2b0"/><path d="M447.0,1181.5 L448.1,1180.4 L449.2,1182.2 Z" fill="#5a6070"/><path d="M448.0,1182.0 L449.4,1180.6 L450.7,1182.8 Z" fill="#9aa2b0"/><path d="M445.2,1182.8 L446.6,1181.5 L448.0,1183.6 Z" fill="#5a6070"/>
<ellipse cx="435.0" cy="1211.0" rx="5" ry="5" fill="#f2f4f7" stroke="#8a7a58" stroke-width="0.7"/><path d="M435.3,1210.3 L436.7,1209.0 L438.0,1211.1 Z" fill="#9aa2b0"/><path d="M436.6,1212.0 L437.5,1211.0 L438.5,1212.6 Z" fill="#70788a"/><path d="M431.3,1212.8 L432.5,1211.6 L433.8,1213.6 Z" fill="#70788a"/><path d="M431.4,1211.7 L432.9,1210.2 L434.4,1212.6 Z" fill="#9aa2b0"/>
<ellipse cx="425.0" cy="1240.0" rx="5" ry="5" fill="#f2f4f7" stroke="#8a7a58" stroke-width="0.7"/><path d="M424.9,1238.8 L426.1,1237.6 L427.3,1239.5 Z" fill="#454a55"/><path d="M423.2,1238.3 L424.2,1237.2 L425.3,1238.9 Z" fill="#5a6070"/><path d="M424.6,1241.4 L425.7,1240.3 L426.7,1242.0 Z" fill="#9aa2b0"/><path d="M424.6,1238.8 L425.7,1237.7 L426.8,1239.4 Z" fill="#70788a"/>
<ellipse cx="418.0" cy="1270.0" rx="5" ry="5" fill="#f2f4f7" stroke="#8a7a58" stroke-width="0.7"/><path d="M415.1,1270.9 L416.4,1269.6 L417.7,1271.7 Z" fill="#70788a"/><path d="M415.9,1268.0 L417.2,1266.7 L418.5,1268.8 Z" fill="#5a6070"/><path d="M413.6,1270.8 L415.1,1269.2 L416.7,1271.7 Z" fill="#9aa2b0"/><path d="M415.3,1271.1 L416.5,1269.9 L417.7,1271.9 Z" fill="#9aa2b0"/>
<ellipse cx="536.0" cy="1073.0" rx="7.3" ry="9.2" fill="#f2f4f7" stroke="#8a7a58" stroke-width="0.7"/><path d="M536.0,1073.8 L537.6,1072.3 L539.1,1074.7 Z" fill="#70788a"/><path d="M537.2,1075.8 L538.6,1074.3 L540.1,1076.6 Z" fill="#70788a"/><path d="M529.6,1071.7 L531.5,1069.7 L533.5,1072.8 Z" fill="#5a6070"/><path d="M537.0,1069.9 L538.4,1068.4 L539.9,1070.8 Z" fill="#454a55"/>
<ellipse cx="520.0" cy="1100.5" rx="7.3" ry="9.2" fill="#f2f4f7" stroke="#8a7a58" stroke-width="0.7"/><path d="M521.5,1099.3 L523.3,1097.5 L525.1,1100.4 Z" fill="#5a6070"/><path d="M521.0,1095.7 L522.8,1093.9 L524.5,1096.7 Z" fill="#9aa2b0"/><path d="M517.2,1102.8 L519.3,1100.7 L521.3,1104.0 Z" fill="#454a55"/><path d="M514.5,1101.1 L516.3,1099.3 L518.1,1102.2 Z" fill="#70788a"/>
<ellipse cx="479.5" cy="1158.4" rx="7.3" ry="9.2" fill="#f2f4f7" stroke="#8a7a58" stroke-width="0.7"/><path d="M481.1,1157.2 L482.5,1155.7 L484.0,1158.1 Z" fill="#5a6070"/><path d="M477.7,1155.3 L479.6,1153.4 L481.6,1156.5 Z" fill="#5a6070"/><path d="M477.0,1155.6 L478.7,1154.0 L480.4,1156.7 Z" fill="#70788a"/><path d="M476.3,1160.6 L478.1,1158.7 L480.0,1161.7 Z" fill="#454a55"/>
<ellipse cx="463.0" cy="1185.0" rx="7.3" ry="9.2" fill="#f2f4f7" stroke="#8a7a58" stroke-width="0.7"/><path d="M458.6,1181.7 L460.7,1179.6 L462.8,1183.0 Z" fill="#70788a"/><path d="M462.4,1180.1 L464.4,1178.0 L466.5,1181.3 Z" fill="#70788a"/><path d="M461.9,1188.7 L464.0,1186.6 L466.0,1189.9 Z" fill="#5a6070"/><path d="M462.2,1181.3 L463.8,1179.8 L465.3,1182.2 Z" fill="#454a55"/>
<ellipse cx="432.6" cy="1253.4" rx="7.3" ry="9.2" fill="#f2f4f7" stroke="#8a7a58" stroke-width="0.7"/><path d="M426.0,1255.3 L428.3,1252.9 L430.6,1256.7 Z" fill="#454a55"/><path d="M432.4,1254.5 L434.2,1252.7 L436.0,1255.6 Z" fill="#454a55"/><path d="M431.4,1257.6 L433.6,1255.4 L435.8,1259.0 Z" fill="#5a6070"/><path d="M426.9,1254.0 L429.0,1251.9 L431.2,1255.3 Z" fill="#5a6070"/>
<ellipse cx="423.3" cy="1281.3" rx="7.3" ry="9.2" fill="#f2f4f7" stroke="#8a7a58" stroke-width="0.7"/><path d="M422.5,1279.3 L424.2,1277.6 L426.0,1280.3 Z" fill="#70788a"/><path d="M419.2,1281.7 L421.3,1279.5 L423.4,1282.9 Z" fill="#454a55"/><path d="M425.2,1284.3 L427.2,1282.2 L429.3,1285.5 Z" fill="#9aa2b0"/><path d="M417.5,1284.6 L419.6,1282.6 L421.6,1285.9 Z" fill="#70788a"/>
<ellipse cx="416.8" cy="1309.3" rx="7.3" ry="9.2" fill="#f2f4f7" stroke="#8a7a58" stroke-width="0.7"/><path d="M416.4,1309.2 L418.3,1307.3 L420.3,1310.4 Z" fill="#9aa2b0"/><path d="M415.3,1307.0 L417.5,1304.8 L419.6,1308.3 Z" fill="#9aa2b0"/><path d="M413.5,1306.6 L415.4,1304.7 L417.2,1307.7 Z" fill="#70788a"/><path d="M418.8,1310.0 L420.8,1307.9 L422.9,1311.2 Z" fill="#5a6070"/>
<ellipse cx="414.0" cy="1339.0" rx="7.3" ry="9.2" fill="#f2f4f7" stroke="#8a7a58" stroke-width="0.7"/><path d="M407.8,1338.1 L409.5,1336.3 L411.3,1339.1 Z" fill="#70788a"/><path d="M413.4,1336.6 L415.0,1335.0 L416.6,1337.5 Z" fill="#454a55"/><path d="M408.4,1339.0 L410.0,1337.3 L411.7,1340.0 Z" fill="#9aa2b0"/><path d="M412.8,1337.2 L414.8,1335.1 L416.9,1338.4 Z" fill="#9aa2b0"/>
<line x1="811.4" y1="1120.2" x2="833.8" y2="1147.7" stroke="#fffef5" stroke-width="4"/>
<line x1="869.5" y1="1208.7" x2="883.5" y2="1236.6" stroke="#fffef5" stroke-width="4"/>
<ellipse cx="813.0" cy="1074.8" rx="5" ry="5" fill="#f2f4f7" stroke="#8a7a58" stroke-width="0.7"/><path d="M810.3,1072.4 L811.5,1071.1 L812.8,1073.1 Z" fill="#70788a"/><path d="M810.0,1074.4 L810.9,1073.5 L811.8,1074.9 Z" fill="#9aa2b0"/><path d="M811.9,1072.5 L813.4,1071.0 L814.8,1073.3 Z" fill="#70788a"/><path d="M812.6,1076.6 L814.0,1075.2 L815.4,1077.5 Z" fill="#5a6070"/>
<ellipse cx="830.0" cy="1101.0" rx="5" ry="5" fill="#f2f4f7" stroke="#8a7a58" stroke-width="0.7"/><path d="M827.7,1102.9 L829.0,1101.6 L830.3,1103.7 Z" fill="#5a6070"/><path d="M829.8,1100.2 L830.8,1099.2 L831.9,1100.9 Z" fill="#5a6070"/><path d="M829.0,1098.9 L830.3,1097.6 L831.6,1099.7 Z" fill="#5a6070"/><path d="M826.5,1101.8 L827.8,1100.6 L829.0,1102.6 Z" fill="#70788a"/>
<ellipse cx="848.0" cy="1127.5" rx="5" ry="5" fill="#f2f4f7" stroke="#8a7a58" stroke-width="0.7"/><path d="M846.0,1125.6 L847.3,1124.3 L848.6,1126.4 Z" fill="#9aa2b0"/><path d="M845.2,1127.4 L846.4,1126.2 L847.7,1128.2 Z" fill="#454a55"/><path d="M849.6,1126.1 L850.7,1125.1 L851.7,1126.7 Z" fill="#9aa2b0"/><path d="M847.6,1128.5 L848.8,1127.3 L850.0,1129.2 Z" fill="#5a6070"/>
<ellipse cx="866.0" cy="1155.0" rx="5" ry="5" fill="#f2f4f7" stroke="#8a7a58" stroke-width="0.7"/><path d="M864.0,1153.3 L865.1,1152.2 L866.1,1153.9 Z" fill="#454a55"/><path d="M865.6,1152.1 L866.6,1151.0 L867.6,1152.7 Z" fill="#454a55"/><path d="M866.3,1157.3 L867.9,1155.8 L869.4,1158.3 Z" fill="#70788a"/><path d="M864.5,1153.8 L866.0,1152.3 L867.5,1154.7 Z" fill="#70788a"/>
<ellipse cx="882.0" cy="1181.0" rx="5" ry="5" fill="#f2f4f7" stroke="#8a7a58" stroke-width="0.7"/><path d="M883.9,1180.8 L884.9,1179.8 L885.9,1181.4 Z" fill="#9aa2b0"/><path d="M882.7,1180.9 L883.9,1179.7 L885.1,1181.6 Z" fill="#454a55"/><path d="M880.0,1183.4 L880.9,1182.5 L881.8,1183.9 Z" fill="#9aa2b0"/><path d="M879.9,1181.4 L881.0,1180.2 L882.2,1182.1 Z" fill="#454a55"/>
<ellipse cx="894.0" cy="1211.0" rx="5" ry="5" fill="#f2f4f7" stroke="#8a7a58" stroke-width="0.7"/><path d="M891.3,1210.9 L892.9,1209.3 L894.4,1211.9 Z" fill="#70788a"/><path d="M894.1,1210.8 L895.2,1209.7 L896.3,1211.4 Z" fill="#5a6070"/><path d="M893.7,1210.2 L895.2,1208.8 L896.6,1211.1 Z" fill="#9aa2b0"/><path d="M893.9,1209.0 L895.5,1207.4 L897.0,1209.9 Z" fill="#9aa2b0"/>
<ellipse cx="904.0" cy="1240.0" rx="5" ry="5" fill="#f2f4f7" stroke="#8a7a58" stroke-width="0.7"/><path d="M904.5,1242.5 L905.8,1241.2 L907.1,1243.3 Z" fill="#454a55"/><path d="M903.6,1240.6 L905.0,1239.2 L906.3,1241.4 Z" fill="#9aa2b0"/><path d="M904.4,1239.0 L905.3,1238.1 L906.2,1239.6 Z" fill="#5a6070"/><path d="M902.9,1238.9 L904.4,1237.4 L905.9,1239.8 Z" fill="#5a6070"/>
<ellipse cx="911.0" cy="1270.0" rx="5" ry="5" fill="#f2f4f7" stroke="#8a7a58" stroke-width="0.7"/><path d="M910.0,1271.3 L910.9,1270.4 L911.8,1271.8 Z" fill="#9aa2b0"/><path d="M911.4,1269.3 L912.4,1268.3 L913.4,1269.9 Z" fill="#70788a"/><path d="M912.9,1268.8 L913.9,1267.7 L915.0,1269.4 Z" fill="#70788a"/><path d="M910.4,1271.6 L911.5,1270.5 L912.6,1272.3 Z" fill="#70788a"/>
<ellipse cx="793.0" cy="1073.0" rx="7.3" ry="9.2" fill="#f2f4f7" stroke="#8a7a58" stroke-width="0.7"/><path d="M790.7,1076.8 L792.2,1075.3 L793.7,1077.7 Z" fill="#454a55"/><path d="M793.2,1067.4 L794.6,1066.0 L795.9,1068.2 Z" fill="#5a6070"/><path d="M791.1,1068.9 L792.7,1067.4 L794.2,1069.8 Z" fill="#9aa2b0"/><path d="M791.1,1076.7 L793.1,1074.7 L795.1,1077.9 Z" fill="#9aa2b0"/>
<ellipse cx="809.0" cy="1100.5" rx="7.3" ry="9.2" fill="#f2f4f7" stroke="#8a7a58" stroke-width="0.7"/><path d="M805.0,1097.1 L807.2,1094.9 L809.4,1098.4 Z" fill="#454a55"/><path d="M805.5,1095.0 L807.2,1093.4 L808.9,1096.0 Z" fill="#70788a"/><path d="M805.5,1102.3 L806.9,1101.0 L808.2,1103.2 Z" fill="#70788a"/><path d="M810.3,1100.9 L812.5,1098.7 L814.7,1102.2 Z" fill="#9aa2b0"/>
<ellipse cx="849.5" cy="1158.4" rx="7.3" ry="9.2" fill="#f2f4f7" stroke="#8a7a58" stroke-width="0.7"/><path d="M848.2,1160.3 L850.4,1158.1 L852.6,1161.6 Z" fill="#454a55"/><path d="M845.1,1155.7 L846.5,1154.3 L847.8,1156.5 Z" fill="#70788a"/><path d="M849.5,1161.5 L851.1,1159.9 L852.7,1162.4 Z" fill="#454a55"/><path d="M851.1,1157.7 L852.7,1156.1 L854.3,1158.6 Z" fill="#454a55"/>
<ellipse cx="866.0" cy="1185.0" rx="7.3" ry="9.2" fill="#f2f4f7" stroke="#8a7a58" stroke-width="0.7"/><path d="M864.8,1187.5 L866.4,1185.9 L868.1,1188.5 Z" fill="#5a6070"/><path d="M861.4,1185.6 L862.9,1184.1 L864.4,1186.5 Z" fill="#5a6070"/><path d="M868.0,1187.8 L869.5,1186.4 L870.9,1188.7 Z" fill="#5a6070"/><path d="M862.1,1186.9 L864.1,1184.9 L866.0,1188.1 Z" fill="#5a6070"/>
<ellipse cx="896.4" cy="1253.4" rx="7.3" ry="9.2" fill="#f2f4f7" stroke="#8a7a58" stroke-width="0.7"/><path d="M891.6,1251.3 L893.7,1249.3 L895.7,1252.6 Z" fill="#9aa2b0"/><path d="M894.9,1248.6 L896.7,1246.8 L898.6,1249.7 Z" fill="#454a55"/><path d="M894.5,1249.0 L895.8,1247.6 L897.2,1249.8 Z" fill="#9aa2b0"/><path d="M894.5,1248.2 L896.0,1246.8 L897.4,1249.1 Z" fill="#5a6070"/>
<ellipse cx="905.7" cy="1281.3" rx="7.3" ry="9.2" fill="#f2f4f7" stroke="#8a7a58" stroke-width="0.7"/><path d="M905.0,1277.5 L907.3,1275.3 L909.5,1278.9 Z" fill="#70788a"/><path d="M905.1,1282.3 L907.1,1280.4 L909.0,1283.5 Z" fill="#5a6070"/><path d="M902.2,1283.9 L903.6,1282.5 L905.0,1284.7 Z" fill="#5a6070"/><path d="M901.3,1278.0 L903.1,1276.2 L904.9,1279.1 Z" fill="#5a6070"/>
<ellipse cx="912.2" cy="1309.3" rx="7.3" ry="9.2" fill="#f2f4f7" stroke="#8a7a58" stroke-width="0.7"/><path d="M908.3,1309.9 L910.6,1307.6 L912.8,1311.2 Z" fill="#5a6070"/><path d="M909.2,1307.5 L911.3,1305.5 L913.4,1308.8 Z" fill="#454a55"/><path d="M912.2,1304.3 L913.7,1302.8 L915.3,1305.3 Z" fill="#70788a"/><path d="M910.8,1313.8 L912.6,1312.0 L914.4,1314.9 Z" fill="#9aa2b0"/>
<ellipse cx="915.0" cy="1339.0" rx="7.3" ry="9.2" fill="#f2f4f7" stroke="#8a7a58" stroke-width="0.7"/><path d="M917.3,1341.6 L918.9,1340.0 L920.6,1342.6 Z" fill="#5a6070"/><path d="M911.0,1336.0 L912.4,1334.6 L913.7,1336.8 Z" fill="#70788a"/><path d="M911.2,1343.0 L913.2,1340.9 L915.3,1344.2 Z" fill="#70788a"/><path d="M915.1,1339.2 L916.7,1337.6 L918.2,1340.1 Z" fill="#5a6070"/>
<line x1="427.0" y1="1318.6" x2="432.9" y2="1319.5" stroke="#8a6428" stroke-width="1.3"/>
<line x1="432.2" y1="1294.0" x2="438.0" y2="1295.5" stroke="#8a6428" stroke-width="1.3"/>
<line x1="440.0" y1="1270.0" x2="445.6" y2="1272.2" stroke="#8a6428" stroke-width="1.3"/>
<line x1="450.2" y1="1247.0" x2="455.6" y2="1249.7" stroke="#8a6428" stroke-width="1.3"/>
<line x1="462.8" y1="1225.2" x2="467.8" y2="1228.5" stroke="#8a6428" stroke-width="1.3"/>
<line x1="477.6" y1="1204.8" x2="482.3" y2="1208.6" stroke="#8a6428" stroke-width="1.3"/>
<line x1="494.4" y1="1186.1" x2="498.7" y2="1190.4" stroke="#8a6428" stroke-width="1.3"/>
<line x1="513.1" y1="1169.3" x2="516.9" y2="1174.0" stroke="#8a6428" stroke-width="1.3"/>
<line x1="533.5" y1="1154.5" x2="536.8" y2="1159.5" stroke="#8a6428" stroke-width="1.3"/>
<line x1="555.3" y1="1141.9" x2="558.0" y2="1147.3" stroke="#8a6428" stroke-width="1.3"/>
<line x1="578.3" y1="1131.7" x2="580.5" y2="1137.3" stroke="#8a6428" stroke-width="1.3"/>
<line x1="602.3" y1="1123.9" x2="603.8" y2="1129.7" stroke="#8a6428" stroke-width="1.3"/>
<line x1="626.9" y1="1118.7" x2="627.8" y2="1124.6" stroke="#8a6428" stroke-width="1.3"/>
<line x1="651.9" y1="1116.0" x2="652.2" y2="1122.0" stroke="#8a6428" stroke-width="1.3"/>
<line x1="677.1" y1="1116.0" x2="676.8" y2="1122.0" stroke="#8a6428" stroke-width="1.3"/>
<line x1="702.1" y1="1118.7" x2="701.2" y2="1124.6" stroke="#8a6428" stroke-width="1.3"/>
<line x1="726.7" y1="1123.9" x2="725.2" y2="1129.7" stroke="#8a6428" stroke-width="1.3"/>
<line x1="750.7" y1="1131.7" x2="748.5" y2="1137.3" stroke="#8a6428" stroke-width="1.3"/>
<line x1="773.7" y1="1141.9" x2="771.0" y2="1147.3" stroke="#8a6428" stroke-width="1.3"/>
<line x1="795.5" y1="1154.5" x2="792.2" y2="1159.5" stroke="#8a6428" stroke-width="1.3"/>
<line x1="815.9" y1="1169.3" x2="812.1" y2="1174.0" stroke="#8a6428" stroke-width="1.3"/>
<line x1="834.6" y1="1186.1" x2="830.3" y2="1190.4" stroke="#8a6428" stroke-width="1.3"/>
<line x1="851.4" y1="1204.8" x2="846.7" y2="1208.6" stroke="#8a6428" stroke-width="1.3"/>
<line x1="866.2" y1="1225.2" x2="861.2" y2="1228.5" stroke="#8a6428" stroke-width="1.3"/>
<line x1="878.8" y1="1247.0" x2="873.4" y2="1249.7" stroke="#8a6428" stroke-width="1.3"/>
<line x1="889.0" y1="1270.0" x2="883.4" y2="1272.2" stroke="#8a6428" stroke-width="1.3"/>
<line x1="896.8" y1="1294.0" x2="891.0" y2="1295.5" stroke="#8a6428" stroke-width="1.3"/>
<line x1="902.0" y1="1318.6" x2="896.1" y2="1319.5" stroke="#8a6428" stroke-width="1.3"/>
<line x1="525.0" y1="1062.0" x2="531.0" y2="1065.0" stroke="#fbe8a8" stroke-width="1.5"/>
<line x1="508.0" y1="1088.0" x2="514.0" y2="1091.0" stroke="#fbe8a8" stroke-width="1.5"/>
<line x1="490.0" y1="1114.0" x2="496.0" y2="1117.0" stroke="#fbe8a8" stroke-width="1.5"/>
<line x1="473.0" y1="1141.0" x2="479.0" y2="1144.0" stroke="#fbe8a8" stroke-width="1.5"/>
<line x1="456.0" y1="1168.0" x2="462.0" y2="1171.0" stroke="#fbe8a8" stroke-width="1.5"/>
<line x1="442.0" y1="1196.0" x2="448.0" y2="1199.0" stroke="#fbe8a8" stroke-width="1.5"/>
<line x1="431.0" y1="1225.0" x2="437.0" y2="1228.0" stroke="#fbe8a8" stroke-width="1.5"/>
<line x1="423.0" y1="1255.0" x2="429.0" y2="1258.0" stroke="#fbe8a8" stroke-width="1.5"/>
<line x1="804.0" y1="1062.0" x2="798.0" y2="1065.0" stroke="#fbe8a8" stroke-width="1.5"/>
<line x1="821.0" y1="1088.0" x2="815.0" y2="1091.0" stroke="#fbe8a8" stroke-width="1.5"/>
<line x1="839.0" y1="1114.0" x2="833.0" y2="1117.0" stroke="#fbe8a8" stroke-width="1.5"/>
<line x1="856.0" y1="1141.0" x2="850.0" y2="1144.0" stroke="#fbe8a8" stroke-width="1.5"/>
<line x1="873.0" y1="1168.0" x2="867.0" y2="1171.0" stroke="#fbe8a8" stroke-width="1.5"/>
<line x1="887.0" y1="1196.0" x2="881.0" y2="1199.0" stroke="#fbe8a8" stroke-width="1.5"/>
<line x1="898.0" y1="1225.0" x2="892.0" y2="1228.0" stroke="#fbe8a8" stroke-width="1.5"/>
<line x1="906.0" y1="1255.0" x2="900.0" y2="1258.0" stroke="#fbe8a8" stroke-width="1.5"/>
<ellipse cx="429.3" cy="1331.5" rx="3.8" ry="3.8" fill="#f2f4f7" stroke="#8a7a58" stroke-width="0.7"/><path d="M427.7,1329.7 L428.6,1328.8 L429.5,1330.2 Z" fill="#454a55"/><path d="M426.9,1331.8 L427.8,1330.9 L428.7,1332.4 Z" fill="#70788a"/>
<ellipse cx="433.2" cy="1307.0" rx="3.8" ry="3.8" fill="#f2f4f7" stroke="#8a7a58" stroke-width="0.7"/><path d="M431.9,1307.9 L432.8,1306.9 L433.8,1308.4 Z" fill="#454a55"/><path d="M429.9,1307.6 L431.1,1306.4 L432.3,1308.3 Z" fill="#9aa2b0"/>
<ellipse cx="439.6" cy="1283.1" rx="3.8" ry="3.8" fill="#f2f4f7" stroke="#8a7a58" stroke-width="0.7"/><path d="M439.8,1283.1 L441.0,1281.9 L442.2,1283.8 Z" fill="#70788a"/><path d="M439.3,1283.5 L440.4,1282.4 L441.5,1284.2 Z" fill="#454a55"/>
<ellipse cx="448.4" cy="1260.0" rx="3.8" ry="3.8" fill="#f2f4f7" stroke="#8a7a58" stroke-width="0.7"/><path d="M448.3,1259.7 L449.4,1258.6 L450.5,1260.4 Z" fill="#454a55"/><path d="M449.0,1258.7 L449.9,1257.8 L450.8,1259.3 Z" fill="#9aa2b0"/>
<ellipse cx="459.7" cy="1238.0" rx="3.8" ry="3.8" fill="#f2f4f7" stroke="#8a7a58" stroke-width="0.7"/><path d="M457.7,1238.6 L458.9,1237.4 L460.1,1239.3 Z" fill="#9aa2b0"/><path d="M457.1,1239.1 L458.0,1238.2 L458.9,1239.6 Z" fill="#9aa2b0"/>
<ellipse cx="473.2" cy="1217.2" rx="3.8" ry="3.8" fill="#f2f4f7" stroke="#8a7a58" stroke-width="0.7"/><path d="M471.4,1219.2 L472.3,1218.3 L473.2,1219.7 Z" fill="#454a55"/><path d="M472.5,1216.4 L473.7,1215.2 L474.9,1217.1 Z" fill="#5a6070"/>
<ellipse cx="488.7" cy="1198.0" rx="3.8" ry="3.8" fill="#f2f4f7" stroke="#8a7a58" stroke-width="0.7"/><path d="M488.9,1197.2 L489.8,1196.3 L490.7,1197.8 Z" fill="#9aa2b0"/><path d="M486.1,1199.4 L487.0,1198.5 L487.9,1199.9 Z" fill="#9aa2b0"/>
<ellipse cx="506.3" cy="1180.4" rx="3.8" ry="3.8" fill="#f2f4f7" stroke="#8a7a58" stroke-width="0.7"/><path d="M505.4,1178.2 L506.3,1177.3 L507.2,1178.8 Z" fill="#5a6070"/><path d="M505.7,1179.4 L506.9,1178.2 L508.1,1180.1 Z" fill="#70788a"/>
<ellipse cx="525.5" cy="1164.9" rx="3.8" ry="3.8" fill="#f2f4f7" stroke="#8a7a58" stroke-width="0.7"/><path d="M526.1,1164.6 L527.0,1163.7 L527.9,1165.1 Z" fill="#454a55"/><path d="M524.9,1163.4 L525.8,1162.5 L526.7,1164.0 Z" fill="#9aa2b0"/>
<ellipse cx="546.2" cy="1151.4" rx="3.8" ry="3.8" fill="#f2f4f7" stroke="#8a7a58" stroke-width="0.7"/><path d="M547.3,1150.2 L548.3,1149.2 L549.3,1150.7 Z" fill="#5a6070"/><path d="M547.2,1152.0 L548.2,1151.1 L549.1,1152.6 Z" fill="#70788a"/>
<ellipse cx="568.3" cy="1140.1" rx="3.8" ry="3.8" fill="#f2f4f7" stroke="#8a7a58" stroke-width="0.7"/><path d="M566.6,1139.2 L567.5,1138.3 L568.4,1139.7 Z" fill="#70788a"/><path d="M568.1,1141.4 L569.0,1140.5 L569.9,1142.0 Z" fill="#454a55"/>
<ellipse cx="591.4" cy="1131.3" rx="3.8" ry="3.8" fill="#f2f4f7" stroke="#8a7a58" stroke-width="0.7"/><path d="M590.4,1128.9 L591.3,1128.0 L592.2,1129.4 Z" fill="#70788a"/><path d="M590.0,1132.9 L590.9,1132.0 L591.8,1133.4 Z" fill="#70788a"/>
<ellipse cx="615.3" cy="1124.9" rx="3.8" ry="3.8" fill="#f2f4f7" stroke="#8a7a58" stroke-width="0.7"/><path d="M613.8,1124.2 L614.8,1123.2 L615.7,1124.7 Z" fill="#9aa2b0"/><path d="M613.0,1124.4 L613.9,1123.5 L614.8,1124.9 Z" fill="#9aa2b0"/>
<ellipse cx="639.8" cy="1121.0" rx="3.8" ry="3.8" fill="#f2f4f7" stroke="#8a7a58" stroke-width="0.7"/><path d="M637.4,1121.7 L638.3,1120.8 L639.2,1122.3 Z" fill="#70788a"/><path d="M638.4,1121.8 L639.3,1120.9 L640.2,1122.3 Z" fill="#454a55"/>
<ellipse cx="664.5" cy="1119.7" rx="3.8" ry="3.8" fill="#f2f4f7" stroke="#8a7a58" stroke-width="0.7"/><path d="M664.0,1118.7 L664.9,1117.8 L665.8,1119.2 Z" fill="#9aa2b0"/><path d="M662.1,1121.1 L663.0,1120.2 L663.9,1121.6 Z" fill="#454a55"/>
<ellipse cx="689.2" cy="1121.0" rx="3.8" ry="3.8" fill="#f2f4f7" stroke="#8a7a58" stroke-width="0.7"/><path d="M687.9,1121.7 L688.8,1120.8 L689.7,1122.3 Z" fill="#454a55"/><path d="M689.3,1122.1 L690.4,1121.1 L691.4,1122.8 Z" fill="#70788a"/>
<ellipse cx="713.7" cy="1124.9" rx="3.8" ry="3.8" fill="#f2f4f7" stroke="#8a7a58" stroke-width="0.7"/><path d="M714.7,1126.1 L715.6,1125.2 L716.5,1126.7 Z" fill="#9aa2b0"/><path d="M711.4,1125.4 L712.5,1124.3 L713.6,1126.1 Z" fill="#5a6070"/>
<ellipse cx="737.6" cy="1131.3" rx="3.8" ry="3.8" fill="#f2f4f7" stroke="#8a7a58" stroke-width="0.7"/><path d="M737.5,1132.3 L738.6,1131.3 L739.7,1133.0 Z" fill="#9aa2b0"/><path d="M738.2,1131.0 L739.1,1130.1 L740.0,1131.5 Z" fill="#9aa2b0"/>
<ellipse cx="760.7" cy="1140.1" rx="3.8" ry="3.8" fill="#f2f4f7" stroke="#8a7a58" stroke-width="0.7"/><path d="M761.0,1139.9 L761.9,1139.0 L762.8,1140.5 Z" fill="#70788a"/><path d="M761.2,1142.1 L762.1,1141.2 L763.0,1142.7 Z" fill="#9aa2b0"/>
<ellipse cx="782.8" cy="1151.4" rx="3.8" ry="3.8" fill="#f2f4f7" stroke="#8a7a58" stroke-width="0.7"/><path d="M783.6,1152.4 L784.5,1151.5 L785.4,1153.0 Z" fill="#70788a"/><path d="M782.0,1153.7 L783.0,1152.7 L784.0,1154.3 Z" fill="#454a55"/>
<ellipse cx="803.5" cy="1164.9" rx="3.8" ry="3.8" fill="#f2f4f7" stroke="#8a7a58" stroke-width="0.7"/><path d="M804.3,1164.4 L805.3,1163.5 L806.3,1165.0 Z" fill="#9aa2b0"/><path d="M802.3,1164.0 L803.2,1163.1 L804.1,1164.5 Z" fill="#70788a"/>
<ellipse cx="822.7" cy="1180.4" rx="3.8" ry="3.8" fill="#f2f4f7" stroke="#8a7a58" stroke-width="0.7"/><path d="M820.9,1181.2 L821.9,1180.2 L822.9,1181.8 Z" fill="#5a6070"/><path d="M819.5,1179.9 L820.4,1179.0 L821.3,1180.4 Z" fill="#454a55"/>
<ellipse cx="840.3" cy="1198.0" rx="3.8" ry="3.8" fill="#f2f4f7" stroke="#8a7a58" stroke-width="0.7"/><path d="M837.9,1196.2 L838.9,1195.2 L839.8,1196.7 Z" fill="#70788a"/><path d="M838.6,1197.7 L839.5,1196.8 L840.4,1198.3 Z" fill="#454a55"/>
<ellipse cx="855.8" cy="1217.2" rx="3.8" ry="3.8" fill="#f2f4f7" stroke="#8a7a58" stroke-width="0.7"/><path d="M855.7,1217.6 L856.9,1216.4 L858.0,1218.3 Z" fill="#9aa2b0"/><path d="M855.9,1217.7 L856.8,1216.8 L857.7,1218.3 Z" fill="#454a55"/>
<ellipse cx="869.3" cy="1238.0" rx="3.8" ry="3.8" fill="#f2f4f7" stroke="#8a7a58" stroke-width="0.7"/><path d="M868.5,1238.8 L869.4,1237.9 L870.3,1239.3 Z" fill="#9aa2b0"/><path d="M867.5,1239.0 L868.4,1238.1 L869.3,1239.6 Z" fill="#454a55"/>
<ellipse cx="880.6" cy="1260.0" rx="3.8" ry="3.8" fill="#f2f4f7" stroke="#8a7a58" stroke-width="0.7"/><path d="M879.5,1258.4 L880.4,1257.5 L881.3,1258.9 Z" fill="#70788a"/><path d="M878.8,1262.0 L879.7,1261.1 L880.6,1262.5 Z" fill="#70788a"/>
<ellipse cx="889.4" cy="1283.1" rx="3.8" ry="3.8" fill="#f2f4f7" stroke="#8a7a58" stroke-width="0.7"/><path d="M888.3,1285.4 L889.2,1284.5 L890.1,1285.9 Z" fill="#9aa2b0"/><path d="M886.7,1281.7 L887.7,1280.7 L888.6,1282.2 Z" fill="#5a6070"/>
<ellipse cx="895.8" cy="1307.0" rx="3.8" ry="3.8" fill="#f2f4f7" stroke="#8a7a58" stroke-width="0.7"/><path d="M895.9,1306.7 L896.8,1305.8 L897.7,1307.2 Z" fill="#70788a"/><path d="M896.7,1307.3 L897.6,1306.4 L898.5,1307.8 Z" fill="#5a6070"/>
<ellipse cx="899.7" cy="1331.5" rx="3.8" ry="3.8" fill="#f2f4f7" stroke="#8a7a58" stroke-width="0.7"/><path d="M899.3,1332.9 L900.3,1331.8 L901.4,1333.5 Z" fill="#454a55"/><path d="M898.3,1329.0 L899.4,1327.8 L900.6,1329.7 Z" fill="#454a55"/>
<rect x="527.4" y="1022.4" width="274.6" height="25.6" rx="1.5" fill="url(#gHead)"/>
<line x1="527.4" y1="1047.4" x2="802" y2="1047.4" stroke="#8a6428" stroke-width="2"/>
<line x1="664.5" y1="1034" x2="664.5" y2="1047" stroke="#d8b060" stroke-width="1"/>
<rect x="563" y="1004.5" width="203" height="17.5" rx="1.5" fill="url(#gHead2)"/>
<line x1="563" y1="1022" x2="766" y2="1022" stroke="#b08848" stroke-width="1.2"/>
<line x1="664.5" y1="1005" x2="664.5" y2="1021" stroke="#d8b060" stroke-width="1"/>
<path d="M624.5,996.8 L624.5,985 Q626,972 640,971 L689,971 Q703,972 705,985 L705,996.8 Z" fill="url(#gTop)"/>
<path d="M639,996.8 L639,980 Q652,978 664.5,983 Q677,978 692,980 L692,996.8 Z" fill="#f0d884" opacity="0.6"/>
<path d="M537.0,1022.6 L549.0,1022.6 L543.0,1035 Z" fill="#b89048" opacity="0.55"/>
<path d="M555.6,1022.6 L567.6,1022.6 L561.6,1035 Z" fill="#b89048" opacity="0.55"/>
<path d="M575.8,1022.6 L587.8,1022.6 L581.8,1035 Z" fill="#b89048" opacity="0.55"/>
<path d="M598.3,1022.6 L610.3,1022.6 L604.3,1035 Z" fill="#b89048" opacity="0.55"/>
<path d="M621.6,1022.6 L633.6,1022.6 L627.6,1035 Z" fill="#b89048" opacity="0.55"/>
<path d="M694.6,1022.6 L706.6,1022.6 L700.6,1035 Z" fill="#b89048" opacity="0.55"/>
<path d="M718.6,1022.6 L730.6,1022.6 L724.6,1035 Z" fill="#b89048" opacity="0.55"/>
<path d="M740.4,1022.6 L752.4,1022.6 L746.4,1035 Z" fill="#b89048" opacity="0.55"/>
<path d="M761.3,1022.6 L773.3,1022.6 L767.3,1035 Z" fill="#b89048" opacity="0.55"/>
<path d="M782.3,1022.6 L794.3,1022.6 L788.3,1035 Z" fill="#b89048" opacity="0.55"/>
<ellipse cx="561.6" cy="1027.5" rx="4.2" ry="4.8" fill="#f2f4f7" stroke="#8a7a58" stroke-width="0.7"/><path d="M561.3,1029.7 L562.4,1028.6 L563.4,1030.3 Z" fill="#9aa2b0"/><path d="M562.7,1028.0 L563.7,1027.0 L564.6,1028.6 Z" fill="#454a55"/>
<ellipse cx="581.8" cy="1027.5" rx="4.2" ry="4.8" fill="#f2f4f7" stroke="#8a7a58" stroke-width="0.7"/><path d="M582.6,1027.3 L583.5,1026.4 L584.4,1027.9 Z" fill="#5a6070"/><path d="M580.2,1029.2 L581.5,1027.9 L582.8,1030.0 Z" fill="#5a6070"/>
<ellipse cx="604.3" cy="1027.5" rx="4.2" ry="4.8" fill="#f2f4f7" stroke="#8a7a58" stroke-width="0.7"/><path d="M601.2,1026.5 L602.2,1025.5 L603.2,1027.1 Z" fill="#454a55"/><path d="M604.1,1025.8 L605.0,1024.9 L605.9,1026.3 Z" fill="#9aa2b0"/>
<ellipse cx="627.6" cy="1027.5" rx="4.2" ry="4.8" fill="#f2f4f7" stroke="#8a7a58" stroke-width="0.7"/><path d="M627.2,1029.5 L628.2,1028.5 L629.2,1030.1 Z" fill="#454a55"/><path d="M625.0,1029.7 L625.9,1028.8 L626.8,1030.2 Z" fill="#9aa2b0"/>
<ellipse cx="700.6" cy="1027.5" rx="4.2" ry="4.8" fill="#f2f4f7" stroke="#8a7a58" stroke-width="0.7"/><path d="M699.6,1029.8 L700.6,1028.8 L701.6,1030.4 Z" fill="#9aa2b0"/><path d="M700.2,1027.7 L701.5,1026.4 L702.8,1028.5 Z" fill="#454a55"/>
<ellipse cx="724.6" cy="1027.5" rx="4.2" ry="4.8" fill="#f2f4f7" stroke="#8a7a58" stroke-width="0.7"/><path d="M723.8,1028.5 L724.9,1027.4 L726.0,1029.2 Z" fill="#454a55"/><path d="M723.1,1030.5 L724.2,1029.4 L725.3,1031.2 Z" fill="#454a55"/>
<ellipse cx="746.4" cy="1027.5" rx="4.2" ry="4.8" fill="#f2f4f7" stroke="#8a7a58" stroke-width="0.7"/><path d="M745.1,1025.1 L746.4,1023.8 L747.7,1025.8 Z" fill="#454a55"/><path d="M747.4,1027.6 L748.7,1026.3 L750.0,1028.3 Z" fill="#5a6070"/>
<ellipse cx="767.3" cy="1027.5" rx="4.2" ry="4.8" fill="#f2f4f7" stroke="#8a7a58" stroke-width="0.7"/><path d="M767.5,1027.7 L768.6,1026.7 L769.6,1028.3 Z" fill="#9aa2b0"/><path d="M767.9,1027.0 L768.8,1026.1 L769.7,1027.5 Z" fill="#9aa2b0"/>
<ellipse cx="664.0" cy="1027.5" rx="6.2" ry="5.8" fill="#f2f4f7" stroke="#8a7a58" stroke-width="0.7"/><path d="M663.1,1026.1 L664.6,1024.6 L666.2,1027.0 Z" fill="#5a6070"/><path d="M663.2,1024.6 L665.1,1022.7 L666.9,1025.7 Z" fill="#70788a"/><path d="M660.9,1026.2 L662.3,1024.8 L663.7,1027.1 Z" fill="#454a55"/><path d="M663.1,1024.8 L664.6,1023.3 L666.2,1025.8 Z" fill="#9aa2b0"/>
<ellipse cx="543.0" cy="1027.0" rx="2.6" ry="4" fill="#f2f4f7" stroke="#8a7a58" stroke-width="0.7"/><path d="M542.1,1025.8 L543.0,1024.9 L543.9,1026.3 Z" fill="#5a6070"/><path d="M541.0,1027.2 L541.9,1026.3 L542.8,1027.7 Z" fill="#9aa2b0"/>
<ellipse cx="788.3" cy="1027.0" rx="2.6" ry="4" fill="#f2f4f7" stroke="#8a7a58" stroke-width="0.7"/><path d="M788.6,1025.3 L789.5,1024.4 L790.4,1025.8 Z" fill="#5a6070"/><path d="M787.7,1028.5 L788.6,1027.6 L789.5,1029.0 Z" fill="#9aa2b0"/>
<ellipse cx="572.5" cy="1000.7" rx="6" ry="4.2" fill="#f2f4f7" stroke="#8a7a58" stroke-width="0.7"/><path d="M571.8,1001.7 L573.2,1000.2 L574.7,1002.5 Z" fill="#70788a"/><path d="M570.8,998.3 L572.5,996.6 L574.1,999.2 Z" fill="#5a6070"/><path d="M571.6,999.3 L572.9,998.0 L574.2,1000.1 Z" fill="#454a55"/><path d="M569.0,1002.3 L570.3,1001.1 L571.5,1003.0 Z" fill="#70788a"/>
<ellipse cx="591.0" cy="1000.7" rx="6" ry="4.2" fill="#f2f4f7" stroke="#8a7a58" stroke-width="0.7"/><path d="M590.4,1001.9 L591.7,1000.6 L593.0,1002.7 Z" fill="#70788a"/><path d="M588.0,1002.1 L589.9,1000.2 L591.8,1003.3 Z" fill="#70788a"/><path d="M588.6,999.9 L590.1,998.4 L591.6,1000.7 Z" fill="#5a6070"/><path d="M591.2,1001.7 L592.9,1000.0 L594.7,1002.8 Z" fill="#9aa2b0"/>
<ellipse cx="609.4" cy="1000.7" rx="6" ry="4.2" fill="#f2f4f7" stroke="#8a7a58" stroke-width="0.7"/><path d="M609.2,1000.2 L610.5,998.9 L611.9,1001.0 Z" fill="#5a6070"/><path d="M610.3,1001.3 L612.1,999.5 L613.9,1002.4 Z" fill="#70788a"/><path d="M609.6,1000.0 L611.4,998.2 L613.2,1001.1 Z" fill="#9aa2b0"/><path d="M605.1,999.3 L606.8,997.7 L608.4,1000.3 Z" fill="#5a6070"/>
<ellipse cx="627.9" cy="1000.7" rx="6" ry="4.2" fill="#f2f4f7" stroke="#8a7a58" stroke-width="0.7"/><path d="M628.5,1001.9 L630.1,1000.3 L631.7,1002.9 Z" fill="#70788a"/><path d="M628.8,1001.0 L629.9,999.9 L631.0,1001.7 Z" fill="#454a55"/><path d="M629.1,1001.2 L630.9,999.4 L632.8,1002.3 Z" fill="#5a6070"/><path d="M627.4,999.2 L628.8,997.8 L630.2,1000.1 Z" fill="#454a55"/>
<ellipse cx="646.3" cy="1000.7" rx="6" ry="4.2" fill="#f2f4f7" stroke="#8a7a58" stroke-width="0.7"/><path d="M645.9,1001.1 L647.4,999.6 L648.9,1002.0 Z" fill="#9aa2b0"/><path d="M646.2,1001.1 L647.7,999.7 L649.1,1001.9 Z" fill="#70788a"/><path d="M644.2,999.9 L645.4,998.7 L646.6,1000.7 Z" fill="#454a55"/><path d="M643.3,1001.4 L644.6,1000.1 L646.0,1002.2 Z" fill="#5a6070"/>
<ellipse cx="664.8" cy="1000.7" rx="6" ry="4.2" fill="#f2f4f7" stroke="#8a7a58" stroke-width="0.7"/><path d="M662.3,1002.5 L663.7,1001.1 L665.1,1003.3 Z" fill="#9aa2b0"/><path d="M666.2,1001.0 L668.0,999.2 L669.8,1002.0 Z" fill="#70788a"/><path d="M661.1,1001.7 L663.0,999.8 L664.8,1002.8 Z" fill="#9aa2b0"/><path d="M664.9,999.7 L666.7,998.0 L668.4,1000.8 Z" fill="#9aa2b0"/>
<ellipse cx="683.2" cy="1000.7" rx="6" ry="4.2" fill="#f2f4f7" stroke="#8a7a58" stroke-width="0.7"/><path d="M679.5,1000.0 L681.3,998.3 L683.0,1001.0 Z" fill="#70788a"/><path d="M684.3,1000.9 L685.9,999.3 L687.5,1001.8 Z" fill="#9aa2b0"/><path d="M684.2,1001.8 L685.6,1000.4 L687.0,1002.6 Z" fill="#70788a"/><path d="M682.9,1001.8 L684.4,1000.3 L685.9,1002.7 Z" fill="#5a6070"/>
<ellipse cx="701.6" cy="1000.7" rx="6" ry="4.2" fill="#f2f4f7" stroke="#8a7a58" stroke-width="0.7"/><path d="M701.9,1001.8 L703.6,1000.1 L705.4,1002.9 Z" fill="#70788a"/><path d="M699.4,1003.0 L700.5,1001.9 L701.7,1003.7 Z" fill="#9aa2b0"/><path d="M698.9,1002.5 L700.5,1000.9 L702.1,1003.5 Z" fill="#5a6070"/><path d="M702.2,999.6 L704.0,997.8 L705.8,1000.6 Z" fill="#70788a"/>
<ellipse cx="720.1" cy="1000.7" rx="6" ry="4.2" fill="#f2f4f7" stroke="#8a7a58" stroke-width="0.7"/><path d="M716.3,998.8 L717.9,997.2 L719.5,999.8 Z" fill="#70788a"/><path d="M719.6,999.7 L720.9,998.4 L722.2,1000.4 Z" fill="#9aa2b0"/><path d="M720.2,1000.3 L721.6,998.9 L723.0,1001.1 Z" fill="#70788a"/><path d="M718.3,1002.9 L720.2,1001.1 L722.0,1004.0 Z" fill="#5a6070"/>
<ellipse cx="738.5" cy="1000.7" rx="6" ry="4.2" fill="#f2f4f7" stroke="#8a7a58" stroke-width="0.7"/><path d="M739.5,999.1 L741.1,997.4 L742.8,1000.1 Z" fill="#454a55"/><path d="M739.1,1002.0 L740.6,1000.5 L742.2,1003.0 Z" fill="#454a55"/><path d="M736.1,999.6 L737.3,998.3 L738.6,1000.3 Z" fill="#9aa2b0"/><path d="M735.8,999.3 L737.2,997.8 L738.7,1000.2 Z" fill="#5a6070"/>
<ellipse cx="757.0" cy="1000.7" rx="6" ry="4.2" fill="#f2f4f7" stroke="#8a7a58" stroke-width="0.7"/><path d="M759.4,1000.8 L760.9,999.3 L762.3,1001.6 Z" fill="#9aa2b0"/><path d="M755.8,998.4 L757.3,996.9 L758.7,999.3 Z" fill="#70788a"/><path d="M756.7,999.2 L757.8,998.1 L759.0,999.9 Z" fill="#454a55"/><path d="M754.2,1001.1 L755.7,999.7 L757.1,1002.0 Z" fill="#5a6070"/>
<clipPath id="cLens"><path d="M632.5,969 Q645,951 665,950 Q686,949 697.5,967 Q688,977 665,977 Q642,978 632.5,969 Z"/></clipPath>
<path d="M632.5,969 Q645,951 665,950 Q686,949 697.5,967 Q688,977 665,977 Q642,978 632.5,969 Z" fill="#eef0f4" stroke="#7a7060" stroke-width="0.8"/>
<g clip-path="url(#cLens)">
<path d="M633.8,955.1 L636.5,952.5 L639.2,957.0 Z" fill="#70788a"/>
<path d="M680.9,964.3 L682.2,963.0 L683.5,965.2 Z" fill="#9aa2b0"/>
<path d="M673.2,970.8 L674.5,969.6 L675.7,971.7 Z" fill="#3e434c"/>
<path d="M693.3,969.6 L695.8,967.1 L698.3,971.3 Z" fill="#5a6070"/>
<path d="M640.5,973.3 L642.2,971.6 L643.8,974.4 Z" fill="#5a6070"/>
<path d="M675.0,969.3 L676.5,967.8 L678.1,970.4 Z" fill="#70788a"/>
<path d="M670.1,958.1 L671.8,956.3 L673.6,959.3 Z" fill="#70788a"/>
<path d="M688.5,963.0 L690.1,961.3 L691.7,964.1 Z" fill="#9aa2b0"/>
<path d="M644.9,958.3 L646.9,956.3 L648.9,959.7 Z" fill="#70788a"/>
<path d="M655.2,956.8 L657.1,954.9 L658.9,958.1 Z" fill="#70788a"/>
<path d="M674.7,973.5 L676.1,972.0 L677.6,974.5 Z" fill="#70788a"/>
<path d="M638.9,964.7 L641.1,962.5 L643.4,966.3 Z" fill="#70788a"/>
<path d="M691.9,962.9 L693.9,960.8 L695.9,964.3 Z" fill="#3e434c"/>
<path d="M647.1,964.9 L649.6,962.3 L652.2,966.7 Z" fill="#70788a"/>
<path d="M648.3,975.8 L650.4,973.6 L652.5,977.3 Z" fill="#70788a"/>
<path d="M652.9,954.0 L654.5,952.4 L656.1,955.1 Z" fill="#3e434c"/>
<path d="M650.7,964.4 L652.4,962.7 L654.1,965.6 Z" fill="#70788a"/>
<path d="M677.9,969.9 L679.4,968.4 L681.0,971.0 Z" fill="#70788a"/>
<path d="M670.2,962.4 L672.2,960.4 L674.2,963.8 Z" fill="#3e434c"/>
<path d="M639.9,957.5 L642.2,955.2 L644.4,959.0 Z" fill="#3e434c"/>
<path d="M635.7,965.6 L637.4,963.9 L639.1,966.8 Z" fill="#70788a"/>
<path d="M665.4,961.9 L667.1,960.2 L668.8,963.1 Z" fill="#5a6070"/>
<path d="M644.7,967.0 L646.7,965.0 L648.6,968.3 Z" fill="#5a6070"/>
<path d="M632.5,971.2 L634.9,968.9 L637.2,972.9 Z" fill="#9aa2b0"/>
<path d="M637.3,967.3 L639.9,964.7 L642.5,969.1 Z" fill="#70788a"/>
<path d="M657.7,958.3 L658.9,957.1 L660.1,959.2 Z" fill="#70788a"/>
<path d="M668.7,965.9 L670.9,963.7 L673.0,967.4 Z" fill="#9aa2b0"/>
<path d="M648.1,973.7 L649.4,972.4 L650.7,974.6 Z" fill="#3e434c"/>
<path d="M657.9,957.7 L659.2,956.4 L660.5,958.6 Z" fill="#3e434c"/>
<path d="M632.1,965.2 L634.8,962.5 L637.5,967.1 Z" fill="#5a6070"/>
<path d="M652,962 Q665,955 678,962 Q672,976 665,977 Q658,976 652,962 Z" fill="none" stroke="#8a8a80" stroke-width="0.8"/>
</g>
<path d="M660,948 L663.5,948 L665,953 L666.5,948 L670,948 L667.5,959 L662.5,959 Z" fill="#d8b060"/>
<ellipse cx="643" cy="970" rx="2.5" ry="2.5" fill="#d8b060"/><ellipse cx="687" cy="970" rx="2.5" ry="2.5" fill="#d8b060"/>
<path d="M652,977 L665,982 L678,977" fill="none" stroke="#c09040" stroke-width="1.2"/>
</svg></body></html>
